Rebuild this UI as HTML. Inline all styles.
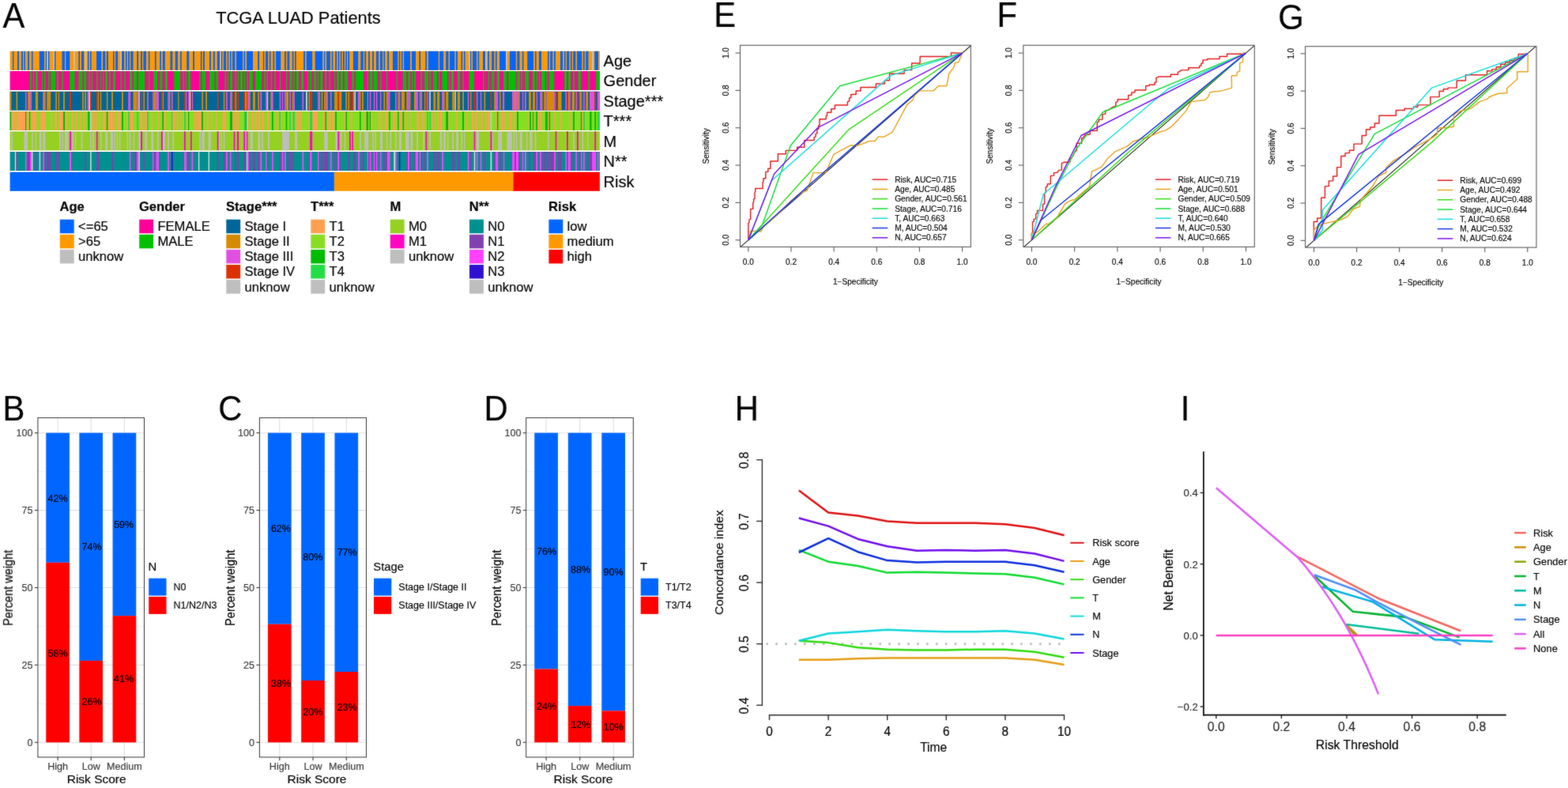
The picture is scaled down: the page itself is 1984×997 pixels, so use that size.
<!DOCTYPE html>
<html lang="en">
<head>
<meta charset="utf-8">
<title>TCGA LUAD Patients - risk score clinical correlation</title>
<style>
html,body{margin:0;padding:0;background:#fff;}
body{width:1984px;height:997px;overflow:hidden;font-family:'Liberation Sans',sans-serif;}
svg{display:block;position:absolute;left:0;top:0;}
svg text{font-family:"Liberation Sans",sans-serif;}
</style>
</head>
<body>
<svg width="1984" height="997" viewBox="0 0 1984 997">
<defs>
<filter id="soft" x="0" y="0" width="1984" height="997" filterUnits="userSpaceOnUse" color-interpolation-filters="sRGB"><feGaussianBlur in="SourceGraphic" stdDeviation="1" result="b"/><feComposite in="SourceGraphic" in2="b" operator="arithmetic" k1="0" k2="0.70" k3="0.30" k4="0"/></filter>
<filter id="softh" x="0" y="0" width="1984" height="997" filterUnits="userSpaceOnUse" color-interpolation-filters="sRGB"><feGaussianBlur in="SourceGraphic" stdDeviation="1 0" result="b"/><feComposite in="SourceGraphic" in2="b" operator="arithmetic" k1="0" k2="0.80" k3="0.20" k4="0"/></filter>
</defs>
<rect x="0" y="0" width="1984" height="997" fill="#ffffff"/>
<g id="heatmap" filter="url(#softh)">
<rect x="12.60" y="64.80" width="746.30" height="24.00" fill="#FF9900"/>
<path d="M15.92 64.80h1.45v24.0h-1.45zM22.11 64.80h1.90v24.0h-1.90zM27.04 64.80h1.90v24.0h-1.90zM30.33 64.80h1.58v24.0h-1.58zM35.07 64.80h1.90v24.0h-1.90zM39.93 64.80h1.64v24.0h-1.64zM49.79 64.80h6.26v24.0h-6.26zM57.82 64.80h1.45v24.0h-1.45zM60.98 64.80h1.45v24.0h-1.45zM68.88 64.80h1.58v24.0h-1.58zM78.48 64.80h3.48v24.0h-3.48zM83.28 64.80h4.99v24.0h-4.99zM99.34 64.80h1.77v24.0h-1.77zM103.00 64.80h3.16v24.0h-3.16zM110.90 64.80h1.58v24.0h-1.58zM114.06 64.80h1.58v24.0h-1.58zM122.09 64.80h6.19v24.0h-6.19zM130.17 64.80h3.16v24.0h-3.16zM134.91 64.80h2.09v24.0h-2.09zM142.99 64.80h1.58v24.0h-1.58zM146.14 64.80h2.96v24.0h-2.96zM154.01 64.80h3.15v24.0h-3.15zM158.93 64.80h1.70v24.0h-1.70zM162.20 64.80h1.76v24.0h-1.76zM165.35 64.80h3.15v24.0h-3.15zM173.23 64.80h1.89v24.0h-1.89zM178.08 64.80h1.89v24.0h-1.89zM181.42 64.80h3.47v24.0h-3.47zM187.91 64.80h1.51v24.0h-1.51zM195.91 64.80h1.70v24.0h-1.70zM202.21 64.80h1.70v24.0h-1.70zM205.80 64.80h3.02v24.0h-3.02zM215.44 64.80h2.84v24.0h-2.84zM221.74 64.80h3.15v24.0h-3.15zM228.04 64.80h1.70v24.0h-1.70zM236.23 64.80h2.96v24.0h-2.96zM244.11 64.80h1.89v24.0h-1.89zM253.87 64.80h1.58v24.0h-1.58zM257.02 64.80h1.89v24.0h-1.89zM265.02 64.80h1.89v24.0h-1.89zM269.88 64.80h1.89v24.0h-1.89zM274.92 64.80h3.15v24.0h-3.15zM279.64 64.80h1.58v24.0h-1.58zM282.92 64.80h3.15v24.0h-3.15zM287.71 64.80h1.51v24.0h-1.51zM290.98 64.80h1.58v24.0h-1.58zM294.13 64.80h3.15v24.0h-3.15zM299.05 64.80h8.00v24.0h-8.00zM308.62 64.80h1.58v24.0h-1.58zM312.09 64.80h7.88v24.0h-7.88zM326.14 64.80h1.89v24.0h-1.89zM332.88 64.80h1.45v24.0h-1.45zM336.03 64.80h3.15v24.0h-3.15zM340.88 64.80h1.64v24.0h-1.64zM345.48 64.80h1.70v24.0h-1.70zM349.07 64.80h6.17v24.0h-6.17zM359.97 64.80h1.89v24.0h-1.89zM363.44 64.80h2.84v24.0h-2.84zM369.74 64.80h1.76v24.0h-1.76zM373.01 64.80h1.76v24.0h-1.76zM384.10 64.80h1.89v24.0h-1.89zM387.76 64.80h7.43v24.0h-7.43zM398.66 64.80h9.45v24.0h-9.45zM410.00 64.80h1.26v24.0h-1.26zM413.15 64.80h4.73v24.0h-4.73zM419.76 64.80h1.58v24.0h-1.58zM424.17 64.80h1.89v24.0h-1.89zM427.64 64.80h1.58v24.0h-1.58zM430.79 64.80h1.58v24.0h-1.58zM433.94 64.80h1.89v24.0h-1.89zM437.28 64.80h1.70v24.0h-1.70zM440.24 64.80h1.89v24.0h-1.89zM446.85 64.80h6.30v24.0h-6.30zM456.30 64.80h3.47v24.0h-3.47zM461.22 64.80h1.89v24.0h-1.89zM466.07 64.80h1.89v24.0h-1.89zM471.11 64.80h1.89v24.0h-1.89zM475.96 64.80h3.15v24.0h-3.15zM480.88 64.80h3.15v24.0h-3.15zM485.41 64.80h1.76v24.0h-1.76zM490.20 64.80h1.89v24.0h-1.89zM496.94 64.80h6.30v24.0h-6.30zM504.82 64.80h1.58v24.0h-1.58zM507.97 64.80h1.58v24.0h-1.58zM511.12 64.80h7.94v24.0h-7.94zM520.95 64.80h5.04v24.0h-5.04zM530.27 64.80h1.89v24.0h-1.89zM538.34 64.80h1.70v24.0h-1.70zM541.93 64.80h12.79v24.0h-12.79zM556.23 64.80h4.91v24.0h-4.91zM564.17 64.80h3.28v24.0h-3.28zM569.02 64.80h6.30v24.0h-6.30zM576.89 64.80h2.02v24.0h-2.02zM583.51 64.80h1.70v24.0h-1.70zM586.97 64.80h1.58v24.0h-1.58zM594.85 64.80h1.45v24.0h-1.45zM598.00 64.80h5.04v24.0h-5.04zM604.62 64.80h1.58v24.0h-1.58zM611.04 64.80h3.02v24.0h-3.02zM617.22 64.80h1.76v24.0h-1.76zM622.13 64.80h3.15v24.0h-3.15zM626.98 64.80h1.70v24.0h-1.70zM632.02 64.80h8.00v24.0h-8.00zM644.88 64.80h7.88v24.0h-7.88zM654.33 64.80h3.15v24.0h-3.15zM660.82 64.80h1.70v24.0h-1.70zM667.24 64.80h7.88v24.0h-7.88zM677.01 64.80h1.58v24.0h-1.58zM681.86 64.80h3.15v24.0h-3.15zM692.95 64.80h1.70v24.0h-1.70zM696.22 64.80h3.02v24.0h-3.02zM700.95 64.80h1.89v24.0h-1.89zM708.95 64.80h3.15v24.0h-3.15zM713.99 64.80h1.64v24.0h-1.64zM717.14 64.80h3.15v24.0h-3.15zM721.93 64.80h1.70v24.0h-1.70zM725.21 64.80h3.15v24.0h-3.15zM730.12 64.80h6.11v24.0h-6.11zM737.93 64.80h1.76v24.0h-1.76zM741.27 64.80h3.15v24.0h-3.15zM752.30 64.80h4.73v24.0h-4.73z" fill="#0066FF"/>
<path d="M59.27 64.80h1.71v24.0h-1.71zM67.61 64.80h1.26v24.0h-1.26zM93.21 64.80h1.58v24.0h-1.58zM107.74 64.80h1.58v24.0h-1.58zM152.44 64.80h1.58v24.0h-1.58zM278.07 64.80h1.58v24.0h-1.58zM593.28 64.80h1.58v24.0h-1.58zM614.07 64.80h1.58v24.0h-1.58zM640.02 64.80h1.51v24.0h-1.51zM749.15 64.80h1.89v24.0h-1.89z" fill="#C4C4C4"/>
<rect x="12.60" y="90.00" width="746.30" height="24.00" fill="#FF0099"/>
<path d="M38.04 90.00h1.90v24.0h-1.90zM41.58 90.00h1.52v24.0h-1.52zM44.86 90.00h3.16v24.0h-3.16zM52.76 90.00h1.45v24.0h-1.45zM55.92 90.00h1.71v24.0h-1.71zM60.98 90.00h1.45v24.0h-1.45zM64.14 90.00h6.00v24.0h-6.00zM72.04 90.00h1.90v24.0h-1.90zM78.35 90.00h1.77v24.0h-1.77zM88.15 90.00h6.32v24.0h-6.32zM99.34 90.00h4.93v24.0h-4.93zM106.03 90.00h3.16v24.0h-3.16zM112.16 90.00h1.71v24.0h-1.71zM115.45 90.00h1.77v24.0h-1.77zM121.96 90.00h1.77v24.0h-1.77zM126.89 90.00h1.39v24.0h-1.39zM130.05 90.00h1.58v24.0h-1.58zM133.33 90.00h2.84v24.0h-2.84zM137.95 90.00h1.89v24.0h-1.89zM142.99 90.00h3.15v24.0h-3.15zM152.44 90.00h1.58v24.0h-1.58zM157.16 90.00h1.76v24.0h-1.76zM163.97 90.00h3.15v24.0h-3.15zM168.82 90.00h4.41v24.0h-4.41zM175.12 90.00h8.00v24.0h-8.00zM187.91 90.00h1.51v24.0h-1.51zM194.21 90.00h4.85v24.0h-4.85zM202.21 90.00h3.34v24.0h-3.34zM208.82 90.00h3.28v24.0h-3.28zM220.17 90.00h7.88v24.0h-7.88zM231.19 90.00h1.70v24.0h-1.70zM234.53 90.00h1.51v24.0h-1.51zM237.93 90.00h3.02v24.0h-3.02zM252.17 90.00h1.70v24.0h-1.70zM255.57 90.00h4.60v24.0h-4.60zM265.02 90.00h6.43v24.0h-6.43zM273.21 90.00h2.96v24.0h-2.96zM284.18 90.00h1.89v24.0h-1.89zM287.71 90.00h1.51v24.0h-1.51zM290.98 90.00h3.15v24.0h-3.15zM297.28 90.00h1.76v24.0h-1.76zM300.56 90.00h1.64v24.0h-1.64zM303.90 90.00h3.15v24.0h-3.15zM308.62 90.00h1.58v24.0h-1.58zM312.09 90.00h1.45v24.0h-1.45zM315.05 90.00h4.91v24.0h-4.91zM322.99 90.00h8.19v24.0h-8.19zM334.14 90.00h1.89v24.0h-1.89zM337.60 90.00h1.58v24.0h-1.58zM342.52 90.00h1.70v24.0h-1.70zM347.18 90.00h1.89v24.0h-1.89zM353.67 90.00h1.58v24.0h-1.58zM361.86 90.00h1.58v24.0h-1.58zM366.27 90.00h3.47v24.0h-3.47zM371.31 90.00h1.70v24.0h-1.70zM374.78 90.00h3.15v24.0h-3.15zM380.95 90.00h3.28v24.0h-3.28zM388.89 90.00h1.58v24.0h-1.58zM392.04 90.00h1.89v24.0h-1.89zM397.08 90.00h3.15v24.0h-3.15zM401.81 90.00h1.58v24.0h-1.58zM405.15 90.00h3.15v24.0h-3.15zM411.26 90.00h1.89v24.0h-1.89zM416.30 90.00h1.70v24.0h-1.70zM422.91 90.00h1.39v24.0h-1.39zM426.06 90.00h3.02v24.0h-3.02zM430.79 90.00h3.15v24.0h-3.15zM435.83 90.00h4.41v24.0h-4.41zM445.28 90.00h2.96v24.0h-2.96zM450.13 90.00h9.83v24.0h-9.83zM464.49 90.00h1.76v24.0h-1.76zM467.96 90.00h3.15v24.0h-3.15zM472.81 90.00h4.60v24.0h-4.60zM480.88 90.00h1.58v24.0h-1.58zM488.75 90.00h1.58v24.0h-1.58zM501.54 90.00h1.70v24.0h-1.70zM509.54 90.00h4.66v24.0h-4.66zM516.10 90.00h2.96v24.0h-2.96zM520.95 90.00h1.45v24.0h-1.45zM523.97 90.00h2.02v24.0h-2.02zM532.16 90.00h1.89v24.0h-1.89zM537.08 90.00h4.85v24.0h-4.85zM543.38 90.00h1.70v24.0h-1.70zM548.23 90.00h4.73v24.0h-4.73zM554.84 90.00h1.58v24.0h-1.58zM559.25 90.00h6.80v24.0h-6.80zM567.57 90.00h1.64v24.0h-1.64zM570.91 90.00h3.15v24.0h-3.15zM578.91 90.00h3.15v24.0h-3.15zM585.21 90.00h1.76v24.0h-1.76zM593.28 90.00h6.62v24.0h-6.62zM611.04 90.00h1.76v24.0h-1.76zM617.34 90.00h1.64v24.0h-1.64zM622.13 90.00h3.15v24.0h-3.15zM628.68 90.00h3.34v24.0h-3.34zM637.00 90.00h4.41v24.0h-4.41zM643.17 90.00h9.58v24.0h-9.58zM654.33 90.00h3.34v24.0h-3.34zM659.18 90.00h1.76v24.0h-1.76zM664.09 90.00h4.91v24.0h-4.91zM673.86 90.00h3.15v24.0h-3.15zM678.58 90.00h1.58v24.0h-1.58zM681.86 90.00h1.45v24.0h-1.45zM685.01 90.00h4.91v24.0h-4.91zM691.31 90.00h1.64v24.0h-1.64zM694.65 90.00h6.49v24.0h-6.49zM713.99 90.00h3.15v24.0h-3.15zM718.91 90.00h3.15v24.0h-3.15zM725.21 90.00h1.76v24.0h-1.76zM731.51 90.00h3.47v24.0h-3.47zM744.23 90.00h1.89v24.0h-1.89zM754.19 90.00h4.71v24.0h-4.71z" fill="#00C000"/>
<rect x="12.60" y="115.70" width="746.30" height="24.00" fill="#006699"/>
<path d="M12.60 115.70h1.79v24.0h-1.79zM20.51 115.70h1.70v24.0h-1.70zM35.19 115.70h2.96v24.0h-2.96zM44.89 115.70h3.15v24.0h-3.15zM55.98 115.70h1.70v24.0h-1.70zM59.25 115.70h4.91v24.0h-4.91zM70.28 115.70h1.70v24.0h-1.70zM73.74 115.70h1.39v24.0h-1.39zM80.04 115.70h1.89v24.0h-1.89zM104.11 115.70h1.76v24.0h-1.76zM107.26 115.70h1.76v24.0h-1.76zM123.52 115.70h1.58v24.0h-1.58zM126.79 115.70h1.45v24.0h-1.45zM134.86 115.70h1.58v24.0h-1.58zM141.10 115.70h1.89v24.0h-1.89zM154.01 115.70h1.89v24.0h-1.89zM168.50 115.70h4.91v24.0h-4.91zM181.42 115.70h1.58v24.0h-1.58zM194.33 115.70h3.28v24.0h-3.28zM205.67 115.70h1.39v24.0h-1.39zM213.86 115.70h1.58v24.0h-1.58zM225.21 115.70h1.26v24.0h-1.26zM255.32 115.70h1.70v24.0h-1.70zM260.17 115.70h1.83v24.0h-1.83zM282.79 115.70h1.58v24.0h-1.58zM292.37 115.70h1.64v24.0h-1.64zM297.41 115.70h1.64v24.0h-1.64zM310.01 115.70h2.08v24.0h-2.08zM315.05 115.70h1.64v24.0h-1.64zM319.96 115.70h3.02v24.0h-3.02zM326.26 115.70h1.76v24.0h-1.76zM342.33 115.70h1.58v24.0h-1.58zM361.67 115.70h3.34v24.0h-3.34zM369.74 115.70h1.58v24.0h-1.58zM390.47 115.70h1.70v24.0h-1.70zM403.38 115.70h1.76v24.0h-1.76zM406.66 115.70h1.64v24.0h-1.64zM410.00 115.70h1.45v24.0h-1.45zM413.15 115.70h1.70v24.0h-1.70zM423.04 115.70h4.41v24.0h-4.41zM429.09 115.70h3.15v24.0h-3.15zM437.28 115.70h1.70v24.0h-1.70zM440.24 115.70h1.70v24.0h-1.70zM446.85 115.70h1.58v24.0h-1.58zM455.04 115.70h1.58v24.0h-1.58zM458.07 115.70h1.89v24.0h-1.89zM485.41 115.70h1.76v24.0h-1.76zM488.75 115.70h1.45v24.0h-1.45zM503.24 115.70h1.58v24.0h-1.58zM507.97 115.70h4.03v24.0h-4.03zM514.21 115.70h1.70v24.0h-1.70zM517.80 115.70h1.64v24.0h-1.64zM523.97 115.70h2.02v24.0h-2.02zM532.29 115.70h1.64v24.0h-1.64zM537.08 115.70h1.39v24.0h-1.39zM548.42 115.70h2.77v24.0h-2.77zM553.08 115.70h3.15v24.0h-3.15zM561.02 115.70h1.70v24.0h-1.70zM564.17 115.70h3.15v24.0h-3.15zM572.17 115.70h3.47v24.0h-3.47zM578.91 115.70h3.15v24.0h-3.15zM585.21 115.70h1.76v24.0h-1.76zM595.04 115.70h1.39v24.0h-1.39zM612.49 115.70h1.70v24.0h-1.70zM625.28 115.70h1.70v24.0h-1.70zM632.02 115.70h1.58v24.0h-1.58zM650.99 115.70h2.08v24.0h-2.08zM656.03 115.70h1.64v24.0h-1.64zM669.01 115.70h2.96v24.0h-2.96zM674.05 115.70h2.96v24.0h-2.96zM684.88 115.70h1.58v24.0h-1.58zM688.16 115.70h1.76v24.0h-1.76zM691.50 115.70h9.64v24.0h-9.64zM705.99 115.70h4.60v24.0h-4.60zM718.91 115.70h1.39v24.0h-1.39zM723.63 115.70h3.34v24.0h-3.34zM733.27 115.70h1.89v24.0h-1.89zM741.27 115.70h2.96v24.0h-2.96z" fill="#D68A00"/>
<path d="M32.04 115.70h1.51v24.0h-1.51zM38.15 115.70h1.89v24.0h-1.89zM54.09 115.70h1.89v24.0h-1.89zM110.60 115.70h1.70v24.0h-1.70zM162.20 115.70h3.02v24.0h-3.02zM173.42 115.70h1.89v24.0h-1.89zM186.14 115.70h1.76v24.0h-1.76zM193.07 115.70h1.26v24.0h-1.26zM197.61 115.70h3.34v24.0h-3.34zM212.29 115.70h1.58v24.0h-1.58zM217.02 115.70h1.58v24.0h-1.58zM234.66 115.70h1.58v24.0h-1.58zM238.12 115.70h1.58v24.0h-1.58zM242.85 115.70h1.26v24.0h-1.26zM285.94 115.70h1.89v24.0h-1.89zM290.98 115.70h1.39v24.0h-1.39zM313.03 115.70h2.02v24.0h-2.02zM329.29 115.70h1.89v24.0h-1.89zM336.03 115.70h1.70v24.0h-1.70zM343.91 115.70h1.76v24.0h-1.76zM353.67 115.70h1.58v24.0h-1.58zM356.82 115.70h1.45v24.0h-1.45zM359.97 115.70h1.70v24.0h-1.70zM366.27 115.70h1.89v24.0h-1.89zM371.31 115.70h1.70v24.0h-1.70zM382.34 115.70h1.89v24.0h-1.89zM401.99 115.70h1.39v24.0h-1.39zM411.45 115.70h1.70v24.0h-1.70zM418.00 115.70h1.64v24.0h-1.64zM452.84 115.70h2.21v24.0h-2.21zM464.62 115.70h1.45v24.0h-1.45zM467.77 115.70h1.64v24.0h-1.64zM472.81 115.70h1.45v24.0h-1.45zM475.84 115.70h1.58v24.0h-1.58zM480.88 115.70h1.58v24.0h-1.58zM490.20 115.70h3.28v24.0h-3.28zM500.09 115.70h1.70v24.0h-1.70zM504.82 115.70h1.58v24.0h-1.58zM515.91 115.70h1.89v24.0h-1.89zM525.99 115.70h3.02v24.0h-3.02zM530.78 115.70h1.51v24.0h-1.51zM540.23 115.70h1.51v24.0h-1.51zM559.25 115.70h1.76v24.0h-1.76zM591.70 115.70h1.70v24.0h-1.70zM602.85 115.70h1.64v24.0h-1.64zM607.77 115.70h1.58v24.0h-1.58zM626.98 115.70h3.34v24.0h-3.34zM635.99 115.70h2.27v24.0h-2.27zM648.03 115.70h2.96v24.0h-2.96zM653.07 115.70h2.96v24.0h-2.96zM660.94 115.70h1.39v24.0h-1.39zM663.97 115.70h1.89v24.0h-1.89zM678.58 115.70h1.58v24.0h-1.58zM683.12 115.70h1.76v24.0h-1.76zM689.92 115.70h1.58v24.0h-1.58zM701.14 115.70h1.70v24.0h-1.70zM715.44 115.70h1.58v24.0h-1.58zM720.29 115.70h1.64v24.0h-1.64zM728.23 115.70h1.70v24.0h-1.70zM735.16 115.70h1.26v24.0h-1.26zM738.12 115.70h1.70v24.0h-1.70zM746.00 115.70h6.30v24.0h-6.30zM755.95 115.70h2.95v24.0h-2.95z" fill="#E050E0"/>
<path d="M88.11 115.70h1.89v24.0h-1.89zM113.94 115.70h1.70v24.0h-1.70zM121.94 115.70h1.58v24.0h-1.58zM178.27 115.70h1.70v24.0h-1.70zM204.10 115.70h1.58v24.0h-1.58zM233.08 115.70h1.58v24.0h-1.58zM241.08 115.70h1.76v24.0h-1.76zM274.73 115.70h1.76v24.0h-1.76zM295.90 115.70h1.51v24.0h-1.51zM300.31 115.70h1.89v24.0h-1.89zM308.62 115.70h1.39v24.0h-1.39zM312.09 115.70h0.95v24.0h-0.95zM392.17 115.70h3.02v24.0h-3.02zM427.45 115.70h1.64v24.0h-1.64zM441.94 115.70h1.64v24.0h-1.64zM445.28 115.70h1.58v24.0h-1.58zM538.46 115.70h1.76v24.0h-1.76zM599.58 115.70h1.76v24.0h-1.76zM620.49 115.70h1.76v24.0h-1.76zM702.84 115.70h1.45v24.0h-1.45zM717.02 115.70h1.89v24.0h-1.89zM729.93 115.70h1.70v24.0h-1.70zM752.30 115.70h1.89v24.0h-1.89z" fill="#DC3000"/>
<path d="M112.30 115.70h1.64v24.0h-1.64zM175.31 115.70h1.51v24.0h-1.51zM239.70 115.70h1.39v24.0h-1.39zM337.73 115.70h1.45v24.0h-1.45zM387.00 115.70h1.89v24.0h-1.89zM448.43 115.70h1.58v24.0h-1.58zM543.19 115.70h1.70v24.0h-1.70zM575.63 115.70h1.26v24.0h-1.26z" fill="#CFCFCF"/>
<rect x="12.60" y="140.90" width="746.30" height="24.00" fill="#88DD22"/>
<path d="M12.60 140.90h1.79v24.0h-1.79zM32.04 140.90h1.51v24.0h-1.51zM36.70 140.90h1.45v24.0h-1.45zM80.04 140.90h2.02v24.0h-2.02zM111.23 140.90h2.52v24.0h-2.52zM134.86 140.90h1.58v24.0h-1.58zM154.01 140.90h1.89v24.0h-1.89zM205.36 140.90h1.70v24.0h-1.70zM237.93 140.90h1.26v24.0h-1.26zM254.94 140.90h1.89v24.0h-1.89zM290.98 140.90h3.02v24.0h-3.02zM310.39 140.90h1.70v24.0h-1.70zM343.91 140.90h1.89v24.0h-1.89zM361.67 140.90h1.64v24.0h-1.64zM411.26 140.90h1.70v24.0h-1.70zM424.17 140.90h1.76v24.0h-1.76zM437.28 140.90h1.70v24.0h-1.70zM455.04 140.90h1.58v24.0h-1.58zM463.23 140.90h2.84v24.0h-2.84zM467.65 140.90h1.58v24.0h-1.58zM492.09 140.90h1.70v24.0h-1.70zM503.24 140.90h1.58v24.0h-1.58zM509.54 140.90h1.58v24.0h-1.58zM564.17 140.90h3.15v24.0h-3.15zM585.08 140.90h1.89v24.0h-1.89zM628.68 140.90h1.76v24.0h-1.76zM654.14 140.90h1.89v24.0h-1.89zM670.08 140.90h1.89v24.0h-1.89zM673.67 140.90h1.45v24.0h-1.45zM678.27 140.90h1.89v24.0h-1.89zM689.92 140.90h3.02v24.0h-3.02zM694.33 140.90h1.76v24.0h-1.76zM725.08 140.90h1.89v24.0h-1.89zM734.78 140.90h1.64v24.0h-1.64zM746.12 140.90h2.39v24.0h-2.39zM752.30 140.90h1.89v24.0h-1.89z" fill="#00BB00"/>
<path d="M14.39 140.90h4.41v24.0h-4.41zM20.82 140.90h11.21v24.0h-11.21zM33.55 140.90h3.15v24.0h-3.15zM40.04 140.90h6.11v24.0h-6.11zM51.06 140.90h6.43v24.0h-6.43zM64.17 140.90h1.70v24.0h-1.70zM69.21 140.90h2.77v24.0h-2.77zM75.00 140.90h5.04v24.0h-5.04zM83.19 140.90h1.76v24.0h-1.76zM90.12 140.90h2.84v24.0h-2.84zM96.11 140.90h1.89v24.0h-1.89zM101.15 140.90h1.58v24.0h-1.58zM105.88 140.90h1.58v24.0h-1.58zM117.09 140.90h3.15v24.0h-3.15zM121.94 140.90h1.58v24.0h-1.58zM125.09 140.90h1.70v24.0h-1.70zM130.13 140.90h3.15v24.0h-3.15zM137.00 140.90h5.80v24.0h-5.80zM144.56 140.90h1.58v24.0h-1.58zM148.03 140.90h4.41v24.0h-4.41zM160.44 140.90h1.76v24.0h-1.76zM163.97 140.90h4.41v24.0h-4.41zM176.82 140.90h3.15v24.0h-3.15zM181.42 140.90h1.58v24.0h-1.58zM184.57 140.90h1.58v24.0h-1.58zM191.06 140.90h1.89v24.0h-1.89zM199.25 140.90h1.70v24.0h-1.70zM207.06 140.90h3.02v24.0h-3.02zM218.28 140.90h3.47v24.0h-3.47zM223.44 140.90h1.64v24.0h-1.64zM228.36 140.90h1.58v24.0h-1.58zM231.51 140.90h1.58v24.0h-1.58zM236.23 140.90h1.70v24.0h-1.70zM246.00 140.90h3.02v24.0h-3.02zM250.72 140.90h4.22v24.0h-4.22zM258.28 140.90h0.95v24.0h-0.95zM262.00 140.90h1.76v24.0h-1.76zM266.73 140.90h1.58v24.0h-1.58zM273.21 140.90h1.70v24.0h-1.70zM281.41 140.90h4.54v24.0h-4.54zM294.01 140.90h2.96v24.0h-2.96zM299.17 140.90h2.84v24.0h-2.84zM313.35 140.90h1.58v24.0h-1.58zM318.39 140.90h2.84v24.0h-2.84zM322.99 140.90h1.89v24.0h-1.89zM326.58 140.90h2.71v24.0h-2.71zM331.18 140.90h2.96v24.0h-2.96zM337.92 140.90h2.84v24.0h-2.84zM348.82 140.90h1.39v24.0h-1.39zM355.12 140.90h1.70v24.0h-1.70zM368.16 140.90h2.08v24.0h-2.08zM374.78 140.90h3.02v24.0h-3.02zM379.31 140.90h1.64v24.0h-1.64zM390.47 140.90h1.70v24.0h-1.70zM395.19 140.90h6.62v24.0h-6.62zM408.74 140.90h2.52v24.0h-2.52zM414.72 140.90h3.15v24.0h-3.15zM419.76 140.90h3.15v24.0h-3.15zM435.64 140.90h1.64v24.0h-1.64zM443.58 140.90h1.70v24.0h-1.70zM461.22 140.90h2.02v24.0h-2.02zM469.22 140.90h1.89v24.0h-1.89zM478.99 140.90h1.89v24.0h-1.89zM482.45 140.90h1.58v24.0h-1.58zM487.18 140.90h3.15v24.0h-3.15zM496.94 140.90h3.15v24.0h-3.15zM504.82 140.90h3.47v24.0h-3.47zM512.00 140.90h2.21v24.0h-2.21zM519.25 140.90h1.70v24.0h-1.70zM527.25 140.90h3.15v24.0h-3.15zM533.93 140.90h3.15v24.0h-3.15zM546.65 140.90h1.39v24.0h-1.39zM549.93 140.90h1.45v24.0h-1.45zM553.08 140.90h1.76v24.0h-1.76zM556.42 140.90h2.84v24.0h-2.84zM567.32 140.90h1.70v24.0h-1.70zM577.21 140.90h1.70v24.0h-1.70zM590.12 140.90h1.58v24.0h-1.58zM596.74 140.90h2.96v24.0h-2.96zM601.34 140.90h3.15v24.0h-3.15zM606.19 140.90h1.58v24.0h-1.58zM609.34 140.90h1.70v24.0h-1.70zM614.19 140.90h1.76v24.0h-1.76zM617.34 140.90h1.76v24.0h-1.76zM626.98 140.90h1.70v24.0h-1.70zM633.60 140.90h3.40v24.0h-3.40zM638.13 140.90h1.70v24.0h-1.70zM641.73 140.90h1.45v24.0h-1.45zM645.06 140.90h2.77v24.0h-2.77zM649.60 140.90h1.58v24.0h-1.58zM669.01 140.90h1.07v24.0h-1.07zM671.97 140.90h1.70v24.0h-1.70zM680.16 140.90h1.70v24.0h-1.70zM683.31 140.90h1.70v24.0h-1.70zM692.95 140.90h1.39v24.0h-1.39zM701.14 140.90h1.70v24.0h-1.70zM708.95 140.90h1.76v24.0h-1.76zM720.29 140.90h1.64v24.0h-1.64zM736.42 140.90h1.70v24.0h-1.70z" fill="#FFA050"/>
<path d="M113.75 140.90h1.89v24.0h-1.89zM312.09 140.90h1.26v24.0h-1.26zM620.49 140.90h1.76v24.0h-1.76z" fill="#C8C8C8"/>
<path d="M162.20 140.90h1.76v24.0h-1.76zM173.23 140.90h1.89v24.0h-1.89zM186.14 140.90h1.76v24.0h-1.76zM217.02 140.90h1.26v24.0h-1.26zM233.08 140.90h1.89v24.0h-1.89zM308.62 140.90h1.76v24.0h-1.76zM353.36 140.90h1.76v24.0h-1.76zM366.27 140.90h1.89v24.0h-1.89zM370.24 140.90h2.65v24.0h-2.65zM392.17 140.90h3.02v24.0h-3.02zM540.04 140.90h1.89v24.0h-1.89zM543.19 140.90h1.89v24.0h-1.89zM738.12 140.90h1.89v24.0h-1.89zM755.95 140.90h2.95v24.0h-2.95z" fill="#22DD44"/>
<rect x="12.60" y="166.30" width="746.30" height="24.00" fill="#96D022"/>
<path d="M14.21 166.30h1.70v24.0h-1.70zM30.40 166.30h4.60v24.0h-4.60zM40.04 166.30h1.58v24.0h-1.58zM44.76 166.30h1.39v24.0h-1.39zM49.80 166.30h2.84v24.0h-2.84zM54.34 166.30h3.02v24.0h-3.02zM75.00 166.30h1.89v24.0h-1.89zM78.66 166.30h1.39v24.0h-1.39zM81.93 166.30h4.41v24.0h-4.41zM91.39 166.30h1.58v24.0h-1.58zM94.85 166.30h1.45v24.0h-1.45zM102.73 166.30h1.76v24.0h-1.76zM114.07 166.30h1.58v24.0h-1.58zM117.09 166.30h1.89v24.0h-1.89zM126.98 166.30h1.45v24.0h-1.45zM133.28 166.30h2.84v24.0h-2.84zM139.84 166.30h3.15v24.0h-3.15zM144.56 166.30h1.58v24.0h-1.58zM147.84 166.30h1.45v24.0h-1.45zM150.99 166.30h1.45v24.0h-1.45zM160.63 166.30h1.58v24.0h-1.58zM163.78 166.30h1.58v24.0h-1.58zM168.63 166.30h1.64v24.0h-1.64zM175.31 166.30h2.65v24.0h-2.65zM183.12 166.30h3.02v24.0h-3.02zM191.18 166.30h3.02v24.0h-3.02zM199.06 166.30h1.89v24.0h-1.89zM205.80 166.30h3.02v24.0h-3.02zM212.10 166.30h1.76v24.0h-1.76zM218.28 166.30h1.76v24.0h-1.76zM252.30 166.30h1.76v24.0h-1.76zM255.45 166.30h3.28v24.0h-3.28zM263.58 166.30h3.15v24.0h-3.15zM276.49 166.30h1.58v24.0h-1.58zM279.64 166.30h1.39v24.0h-1.39zM282.79 166.30h1.58v24.0h-1.58zM310.20 166.30h1.70v24.0h-1.70zM316.69 166.30h3.15v24.0h-3.15zM326.26 166.30h3.02v24.0h-3.02zM330.99 166.30h1.89v24.0h-1.89zM338.99 166.30h1.89v24.0h-1.89zM357.14 166.30h8.82v24.0h-8.82zM373.01 166.30h3.15v24.0h-3.15zM410.19 166.30h4.54v24.0h-4.54zM424.30 166.30h3.02v24.0h-3.02zM430.79 166.30h1.58v24.0h-1.58zM435.64 166.30h1.64v24.0h-1.64zM455.04 166.30h1.76v24.0h-1.76zM461.22 166.30h5.04v24.0h-5.04zM471.11 166.30h1.70v24.0h-1.70zM474.26 166.30h1.70v24.0h-1.70zM481.00 166.30h3.02v24.0h-3.02zM488.94 166.30h1.39v24.0h-1.39zM493.48 166.30h1.76v24.0h-1.76zM500.09 166.30h1.70v24.0h-1.70zM504.94 166.30h3.02v24.0h-3.02zM513.13 166.30h4.54v24.0h-4.54zM519.56 166.30h2.65v24.0h-2.65zM527.12 166.30h1.89v24.0h-1.89zM535.19 166.30h1.89v24.0h-1.89zM543.19 166.30h1.89v24.0h-1.89zM556.61 166.30h2.65v24.0h-2.65zM561.14 166.30h2.84v24.0h-2.84zM565.87 166.30h1.58v24.0h-1.58zM572.17 166.30h1.89v24.0h-1.89zM577.21 166.30h2.96v24.0h-2.96zM583.51 166.30h1.58v24.0h-1.58zM586.97 166.30h1.26v24.0h-1.26zM602.85 166.30h3.34v24.0h-3.34zM622.38 166.30h1.45v24.0h-1.45zM630.32 166.30h4.85v24.0h-4.85zM641.41 166.30h6.43v24.0h-6.43zM649.60 166.30h1.58v24.0h-1.58zM652.75 166.30h1.58v24.0h-1.58zM657.67 166.30h3.15v24.0h-3.15zM665.86 166.30h1.39v24.0h-1.39zM670.39 166.30h3.15v24.0h-3.15zM676.82 166.30h1.64v24.0h-1.64zM692.95 166.30h1.70v24.0h-1.70zM725.21 166.30h1.76v24.0h-1.76zM736.42 166.30h1.70v24.0h-1.70zM743.16 166.30h1.26v24.0h-1.26z" fill="#BEBEBE"/>
<path d="M88.11 166.30h1.89v24.0h-1.89zM121.94 166.30h1.70v24.0h-1.70zM177.95 166.30h2.02v24.0h-2.02zM203.91 166.30h1.89v24.0h-1.89zM232.89 166.30h1.89v24.0h-1.89zM240.96 166.30h1.76v24.0h-1.76zM274.73 166.30h1.76v24.0h-1.76zM295.71 166.30h1.70v24.0h-1.70zM299.93 166.30h2.27v24.0h-2.27zM308.31 166.30h1.89v24.0h-1.89zM311.90 166.30h1.45v24.0h-1.45zM392.04 166.30h3.15v24.0h-3.15zM427.32 166.30h1.89v24.0h-1.89zM441.94 166.30h1.89v24.0h-1.89zM445.28 166.30h1.70v24.0h-1.70zM538.46 166.30h1.76v24.0h-1.76zM599.70 166.30h1.64v24.0h-1.64zM620.49 166.30h1.89v24.0h-1.89zM702.65 166.30h1.64v24.0h-1.64zM717.02 166.30h1.89v24.0h-1.89zM729.93 166.30h1.89v24.0h-1.89zM752.30 166.30h1.89v24.0h-1.89z" fill="#FF06C2"/>
<rect x="12.60" y="192.00" width="746.30" height="24.00" fill="#009090"/>
<path d="M18.80 192.00h1.70v24.0h-1.70zM40.04 192.00h1.45v24.0h-1.45zM49.68 192.00h1.51v24.0h-1.51zM114.07 192.00h1.58v24.0h-1.58zM175.31 192.00h1.51v24.0h-1.51zM250.91 192.00h1.51v24.0h-1.51zM263.58 192.00h1.45v24.0h-1.45zM311.90 192.00h1.26v24.0h-1.26zM498.20 192.00h1.89v24.0h-1.89zM599.70 192.00h1.64v24.0h-1.64zM620.49 192.00h1.76v24.0h-1.76z" fill="#D2D2D2"/>
<path d="M20.51 192.00h1.58v24.0h-1.58zM35.00 192.00h2.96v24.0h-2.96zM44.76 192.00h1.58v24.0h-1.58zM56.10 192.00h1.39v24.0h-1.39zM59.25 192.00h4.91v24.0h-4.91zM70.28 192.00h1.70v24.0h-1.70zM73.74 192.00h1.39v24.0h-1.39zM107.26 192.00h1.76v24.0h-1.76zM122.13 192.00h3.15v24.0h-3.15zM141.10 192.00h1.89v24.0h-1.89zM170.27 192.00h2.96v24.0h-2.96zM181.23 192.00h1.89v24.0h-1.89zM194.33 192.00h1.89v24.0h-1.89zM237.68 192.00h1.70v24.0h-1.70zM274.73 192.00h1.76v24.0h-1.76zM282.79 192.00h1.58v24.0h-1.58zM297.41 192.00h1.64v24.0h-1.64zM300.56 192.00h1.64v24.0h-1.64zM308.62 192.00h1.89v24.0h-1.89zM315.05 192.00h1.64v24.0h-1.64zM319.96 192.00h3.02v24.0h-3.02zM326.26 192.00h1.76v24.0h-1.76zM337.60 192.00h1.39v24.0h-1.39zM353.67 192.00h1.58v24.0h-1.58zM363.12 192.00h1.89v24.0h-1.89zM366.27 192.00h1.89v24.0h-1.89zM369.74 192.00h1.76v24.0h-1.76zM390.78 192.00h1.26v24.0h-1.26zM403.51 192.00h1.45v24.0h-1.45zM406.66 192.00h1.76v24.0h-1.76zM410.19 192.00h4.66v24.0h-4.66zM422.91 192.00h1.39v24.0h-1.39zM426.19 192.00h1.13v24.0h-1.13zM429.34 192.00h1.45v24.0h-1.45zM440.24 192.00h1.89v24.0h-1.89zM446.98 192.00h3.15v24.0h-3.15zM458.07 192.00h2.02v24.0h-2.02zM466.07 192.00h1.70v24.0h-1.70zM474.26 192.00h1.58v24.0h-1.58zM485.41 192.00h1.76v24.0h-1.76zM488.75 192.00h1.26v24.0h-1.26zM514.39 192.00h1.51v24.0h-1.51zM517.99 192.00h1.45v24.0h-1.45zM524.29 192.00h1.45v24.0h-1.45zM532.29 192.00h1.64v24.0h-1.64zM536.89 192.00h1.58v24.0h-1.58zM548.42 192.00h2.96v24.0h-2.96zM553.08 192.00h3.34v24.0h-3.34zM572.17 192.00h3.15v24.0h-3.15zM578.91 192.00h3.15v24.0h-3.15zM595.04 192.00h1.51v24.0h-1.51zM612.49 192.00h1.70v24.0h-1.70zM625.28 192.00h1.70v24.0h-1.70zM631.71 192.00h1.89v24.0h-1.89zM635.99 192.00h1.01v24.0h-1.01zM650.99 192.00h1.89v24.0h-1.89zM656.03 192.00h1.45v24.0h-1.45zM668.82 192.00h1.58v24.0h-1.58zM675.12 192.00h3.15v24.0h-3.15zM685.01 192.00h1.45v24.0h-1.45zM688.16 192.00h3.02v24.0h-3.02zM692.95 192.00h1.70v24.0h-1.70zM696.22 192.00h4.91v24.0h-4.91zM705.99 192.00h4.60v24.0h-4.60zM721.93 192.00h1.70v24.0h-1.70zM725.08 192.00h1.39v24.0h-1.39zM733.40 192.00h1.58v24.0h-1.58zM742.85 192.00h1.58v24.0h-1.58zM746.00 192.00h3.15v24.0h-3.15z" fill="#8040B0"/>
<path d="M32.04 192.00h1.51v24.0h-1.51zM37.96 192.00h2.08v24.0h-2.08zM54.34 192.00h1.76v24.0h-1.76zM88.11 192.00h2.02v24.0h-2.02zM163.78 192.00h1.58v24.0h-1.58zM173.23 192.00h2.08v24.0h-2.08zM192.95 192.00h1.39v24.0h-1.39zM197.61 192.00h3.34v24.0h-3.34zM212.10 192.00h1.76v24.0h-1.76zM233.08 192.00h2.96v24.0h-2.96zM242.53 192.00h1.70v24.0h-1.70zM286.07 192.00h1.76v24.0h-1.76zM290.98 192.00h1.58v24.0h-1.58zM313.16 192.00h1.89v24.0h-1.89zM329.29 192.00h1.89v24.0h-1.89zM336.22 192.00h1.39v24.0h-1.39zM343.91 192.00h1.76v24.0h-1.76zM356.82 192.00h1.58v24.0h-1.58zM359.97 192.00h1.70v24.0h-1.70zM382.46 192.00h1.76v24.0h-1.76zM392.04 192.00h2.39v24.0h-2.39zM401.99 192.00h1.51v24.0h-1.51zM418.00 192.00h1.64v24.0h-1.64zM427.32 192.00h2.02v24.0h-2.02zM453.15 192.00h1.89v24.0h-1.89zM464.62 192.00h1.45v24.0h-1.45zM467.77 192.00h1.64v24.0h-1.64zM472.81 192.00h1.45v24.0h-1.45zM475.84 192.00h1.58v24.0h-1.58zM480.88 192.00h1.58v24.0h-1.58zM490.01 192.00h3.47v24.0h-3.47zM500.09 192.00h1.58v24.0h-1.58zM515.91 192.00h2.08v24.0h-2.08zM525.73 192.00h3.28v24.0h-3.28zM530.78 192.00h1.51v24.0h-1.51zM540.04 192.00h1.89v24.0h-1.89zM559.25 192.00h1.89v24.0h-1.89zM591.70 192.00h1.70v24.0h-1.70zM602.85 192.00h1.64v24.0h-1.64zM607.77 192.00h1.58v24.0h-1.58zM626.98 192.00h3.15v24.0h-3.15zM637.00 192.00h1.26v24.0h-1.26zM648.03 192.00h2.96v24.0h-2.96zM652.88 192.00h3.15v24.0h-3.15zM660.94 192.00h1.39v24.0h-1.39zM663.97 192.00h1.89v24.0h-1.89zM678.27 192.00h1.89v24.0h-1.89zM683.12 192.00h1.89v24.0h-1.89zM701.14 192.00h1.70v24.0h-1.70zM715.44 192.00h1.58v24.0h-1.58zM718.91 192.00h3.02v24.0h-3.02zM728.36 192.00h1.58v24.0h-1.58zM734.97 192.00h1.45v24.0h-1.45zM738.12 192.00h1.70v24.0h-1.70zM749.15 192.00h5.04v24.0h-5.04zM755.95 192.00h1.39v24.0h-1.39z" fill="#FF40FF"/>
<path d="M216.89 192.00h1.70v24.0h-1.70zM504.82 192.00h1.58v24.0h-1.58z" fill="#3010D0"/>
<rect x="12.60" y="217.70" width="410.30" height="24.00" fill="#0066FF"/>
<rect x="422.90" y="217.70" width="226.50" height="24.00" fill="#FF9900"/>
<rect x="649.40" y="217.70" width="109.50" height="24.00" fill="#FF0000"/>
</g>
<g id="figure" filter="url(#soft)">
<g id="panel-letters">
<text transform="translate(3.50 34.80) scale(1 1.055)" font-size="41.8" stroke="#000" stroke-width="0.19">A</text>
<text transform="translate(903.30 34.30) scale(1 1.055)" font-size="41.8" stroke="#000" stroke-width="0.19">E</text>
<text transform="translate(1261.50 34.30) scale(1 1.055)" font-size="41.8" stroke="#000" stroke-width="0.19">F</text>
<text transform="translate(1617.20 37.30) scale(1 1.055)" font-size="41.8" stroke="#000" stroke-width="0.19">G</text>
<text transform="translate(3.40 531.70) scale(1 1.055)" font-size="41.8" stroke="#000" stroke-width="0.19">B</text>
<text transform="translate(276.20 531.70) scale(1 1.055)" font-size="41.8" stroke="#000" stroke-width="0.19">C</text>
<text transform="translate(612.60 531.70) scale(1 1.055)" font-size="41.8" stroke="#000" stroke-width="0.19">D</text>
<text transform="translate(929.70 531.70) scale(1 1.055)" font-size="41.8" stroke="#000" stroke-width="0.19">H</text>
<text transform="translate(1493.70 531.70) scale(1 1.055)" font-size="41.8" stroke="#000" stroke-width="0.19">I</text>
</g>
<text x="377.45" y="29.60" font-size="21.8" text-anchor="middle" stroke="#000" stroke-width="0.19">TCGA LUAD Patients</text>

<g id="heatmap-labels">
<text x="763.60" y="84.00" font-size="20" stroke="#000" stroke-width="0.19">Age</text>
<text x="763.60" y="109.20" font-size="20" stroke="#000" stroke-width="0.19">Gender</text>
<text x="763.60" y="134.90" font-size="20" stroke="#000" stroke-width="0.19">Stage***</text>
<text x="763.60" y="160.10" font-size="20" stroke="#000" stroke-width="0.19">T***</text>
<text x="763.60" y="185.50" font-size="20" stroke="#000" stroke-width="0.19">M</text>
<text x="763.60" y="211.20" font-size="20" stroke="#000" stroke-width="0.19">N**</text>
<text x="763.60" y="236.90" font-size="20" stroke="#000" stroke-width="0.19">Risk</text>
</g>
<g id="heatmap-legend">
<text x="75.50" y="266.80" font-size="16.6" font-weight="700" stroke="#000" stroke-width="0.18">Age</text>
<rect x="75.80" y="277.70" width="17.90" height="17.50" fill="#0066FF"/>
<text x="99.00" y="292.10" font-size="16.6" stroke="#000" stroke-width="0.18">&lt;=65</text>
<rect x="75.80" y="296.80" width="17.90" height="17.50" fill="#FF9900"/>
<text x="99.00" y="311.20" font-size="16.6" stroke="#000" stroke-width="0.18">&gt;65</text>
<rect x="75.80" y="315.90" width="17.90" height="17.50" fill="#BEBEBE"/>
<text x="99.00" y="330.30" font-size="16.6" stroke="#000" stroke-width="0.18">unknow</text>
<text x="175.90" y="266.80" font-size="16.6" font-weight="700" stroke="#000" stroke-width="0.18">Gender</text>
<rect x="176.20" y="277.70" width="17.90" height="17.50" fill="#FF0099"/>
<text x="199.40" y="292.10" font-size="16.6" stroke="#000" stroke-width="0.18">FEMALE</text>
<rect x="176.20" y="296.80" width="17.90" height="17.50" fill="#00C000"/>
<text x="199.40" y="311.20" font-size="16.6" stroke="#000" stroke-width="0.18">MALE</text>
<text x="286.00" y="266.80" font-size="16.6" font-weight="700" stroke="#000" stroke-width="0.18">Stage***</text>
<rect x="286.30" y="277.70" width="17.90" height="17.50" fill="#006699"/>
<text x="309.50" y="292.10" font-size="16.6" stroke="#000" stroke-width="0.18">Stage I</text>
<rect x="286.30" y="296.80" width="17.90" height="17.50" fill="#D68A00"/>
<text x="309.50" y="311.20" font-size="16.6" stroke="#000" stroke-width="0.18">Stage II</text>
<rect x="286.30" y="315.90" width="17.90" height="17.50" fill="#E050E0"/>
<text x="309.50" y="330.30" font-size="16.6" stroke="#000" stroke-width="0.18">Stage III</text>
<rect x="286.30" y="335.00" width="17.90" height="17.50" fill="#DC3000"/>
<text x="309.50" y="349.40" font-size="16.6" stroke="#000" stroke-width="0.18">Stage IV</text>
<rect x="286.30" y="354.10" width="17.90" height="17.50" fill="#BEBEBE"/>
<text x="309.50" y="368.50" font-size="16.6" stroke="#000" stroke-width="0.18">unknow</text>
<text x="393.00" y="266.80" font-size="16.6" font-weight="700" stroke="#000" stroke-width="0.18">T***</text>
<rect x="393.30" y="277.70" width="17.90" height="17.50" fill="#FFA050"/>
<text x="416.50" y="292.10" font-size="16.6" stroke="#000" stroke-width="0.18">T1</text>
<rect x="393.30" y="296.80" width="17.90" height="17.50" fill="#88DD22"/>
<text x="416.50" y="311.20" font-size="16.6" stroke="#000" stroke-width="0.18">T2</text>
<rect x="393.30" y="315.90" width="17.90" height="17.50" fill="#00BB00"/>
<text x="416.50" y="330.30" font-size="16.6" stroke="#000" stroke-width="0.18">T3</text>
<rect x="393.30" y="335.00" width="17.90" height="17.50" fill="#22DD44"/>
<text x="416.50" y="349.40" font-size="16.6" stroke="#000" stroke-width="0.18">T4</text>
<rect x="393.30" y="354.10" width="17.90" height="17.50" fill="#BEBEBE"/>
<text x="416.50" y="368.50" font-size="16.6" stroke="#000" stroke-width="0.18">unknow</text>
<text x="493.45" y="266.80" font-size="16.6" font-weight="700" stroke="#000" stroke-width="0.18">M</text>
<rect x="493.75" y="277.70" width="17.90" height="17.50" fill="#96D022"/>
<text x="516.95" y="292.10" font-size="16.6" stroke="#000" stroke-width="0.18">M0</text>
<rect x="493.75" y="296.80" width="17.90" height="17.50" fill="#FF06C2"/>
<text x="516.95" y="311.20" font-size="16.6" stroke="#000" stroke-width="0.18">M1</text>
<rect x="493.75" y="315.90" width="17.90" height="17.50" fill="#BEBEBE"/>
<text x="516.95" y="330.30" font-size="16.6" stroke="#000" stroke-width="0.18">unknow</text>
<text x="593.70" y="266.80" font-size="16.6" font-weight="700" stroke="#000" stroke-width="0.18">N**</text>
<rect x="594.00" y="277.70" width="17.90" height="17.50" fill="#009090"/>
<text x="617.20" y="292.10" font-size="16.6" stroke="#000" stroke-width="0.18">N0</text>
<rect x="594.00" y="296.80" width="17.90" height="17.50" fill="#8040B0"/>
<text x="617.20" y="311.20" font-size="16.6" stroke="#000" stroke-width="0.18">N1</text>
<rect x="594.00" y="315.90" width="17.90" height="17.50" fill="#FF40FF"/>
<text x="617.20" y="330.30" font-size="16.6" stroke="#000" stroke-width="0.18">N2</text>
<rect x="594.00" y="335.00" width="17.90" height="17.50" fill="#3010D0"/>
<text x="617.20" y="349.40" font-size="16.6" stroke="#000" stroke-width="0.18">N3</text>
<rect x="594.00" y="354.10" width="17.90" height="17.50" fill="#BEBEBE"/>
<text x="617.20" y="368.50" font-size="16.6" stroke="#000" stroke-width="0.18">unknow</text>
<text x="694.10" y="266.80" font-size="16.6" font-weight="700" stroke="#000" stroke-width="0.18">Risk</text>
<rect x="694.40" y="277.70" width="17.90" height="17.50" fill="#0066FF"/>
<text x="717.60" y="292.10" font-size="16.6" stroke="#000" stroke-width="0.18">low</text>
<rect x="694.40" y="296.80" width="17.90" height="17.50" fill="#FF9900"/>
<text x="717.60" y="311.20" font-size="16.6" stroke="#000" stroke-width="0.18">medium</text>
<rect x="694.40" y="315.90" width="17.90" height="17.50" fill="#FF0000"/>
<text x="717.60" y="330.30" font-size="16.6" stroke="#000" stroke-width="0.18">high</text>
</g>
<g id="barplots">
<line x1="47.90" y1="890.35" x2="182.50" y2="890.35" stroke="#ebebeb" stroke-width="0.8"/>
<line x1="47.90" y1="792.45" x2="182.50" y2="792.45" stroke="#ebebeb" stroke-width="0.8"/>
<line x1="47.90" y1="694.55" x2="182.50" y2="694.55" stroke="#ebebeb" stroke-width="0.8"/>
<line x1="47.90" y1="596.65" x2="182.50" y2="596.65" stroke="#ebebeb" stroke-width="0.8"/>
<line x1="47.90" y1="939.30" x2="182.50" y2="939.30" stroke="#dfdfdf" stroke-width="1.1"/>
<line x1="47.90" y1="841.40" x2="182.50" y2="841.40" stroke="#dfdfdf" stroke-width="1.1"/>
<line x1="47.90" y1="743.50" x2="182.50" y2="743.50" stroke="#dfdfdf" stroke-width="1.1"/>
<line x1="47.90" y1="645.60" x2="182.50" y2="645.60" stroke="#dfdfdf" stroke-width="1.1"/>
<line x1="47.90" y1="547.70" x2="182.50" y2="547.70" stroke="#dfdfdf" stroke-width="1.1"/>
<line x1="73.10" y1="528.60" x2="73.10" y2="958.00" stroke="#dfdfdf" stroke-width="1.1"/>
<line x1="115.20" y1="528.60" x2="115.20" y2="958.00" stroke="#dfdfdf" stroke-width="1.1"/>
<line x1="157.40" y1="528.60" x2="157.40" y2="958.00" stroke="#dfdfdf" stroke-width="1.1"/>
<rect x="58.25" y="547.70" width="29.70" height="164.08" fill="#0066FF"/>
<rect x="58.25" y="711.78" width="29.70" height="227.52" fill="#FF0000"/>
<rect x="100.35" y="547.70" width="29.70" height="288.22" fill="#0066FF"/>
<rect x="100.35" y="835.92" width="29.70" height="103.38" fill="#FF0000"/>
<rect x="142.55" y="547.70" width="29.70" height="231.44" fill="#0066FF"/>
<rect x="142.55" y="779.14" width="29.70" height="160.16" fill="#FF0000"/>
<text x="73.10" y="635.10" font-size="12.5" text-anchor="middle" stroke="#000" stroke-width="0.16">42%</text>
<text x="73.20" y="831.00" font-size="12.5" text-anchor="middle" stroke="#000" stroke-width="0.16">58%</text>
<text x="116.10" y="695.70" font-size="12.5" text-anchor="middle" stroke="#000" stroke-width="0.16">74%</text>
<text x="116.10" y="891.70" font-size="12.5" text-anchor="middle" stroke="#000" stroke-width="0.16">26%</text>
<text x="156.70" y="667.60" font-size="12.5" text-anchor="middle" stroke="#000" stroke-width="0.16">59%</text>
<text x="156.50" y="863.40" font-size="12.5" text-anchor="middle" stroke="#000" stroke-width="0.16">41%</text>
<rect x="47.90" y="528.60" width="134.60" height="429.40" fill="none" stroke="#333333" stroke-width="1"/>
<line x1="43.90" y1="939.30" x2="47.90" y2="939.30" stroke="#333333" stroke-width="1.1"/>
<text transform="translate(41.60 943.90) scale(1 1.04)" font-size="12.6" text-anchor="end" fill="#383838" stroke="#383838" stroke-width="0.16">0</text>
<line x1="43.90" y1="841.40" x2="47.90" y2="841.40" stroke="#333333" stroke-width="1.1"/>
<text transform="translate(41.60 846.00) scale(1 1.04)" font-size="12.6" text-anchor="end" fill="#383838" stroke="#383838" stroke-width="0.16">25</text>
<line x1="43.90" y1="743.50" x2="47.90" y2="743.50" stroke="#333333" stroke-width="1.1"/>
<text transform="translate(41.60 748.10) scale(1 1.04)" font-size="12.6" text-anchor="end" fill="#383838" stroke="#383838" stroke-width="0.16">50</text>
<line x1="43.90" y1="645.60" x2="47.90" y2="645.60" stroke="#333333" stroke-width="1.1"/>
<text transform="translate(41.60 650.20) scale(1 1.04)" font-size="12.6" text-anchor="end" fill="#383838" stroke="#383838" stroke-width="0.16">75</text>
<line x1="43.90" y1="547.70" x2="47.90" y2="547.70" stroke="#333333" stroke-width="1.1"/>
<text transform="translate(41.60 552.30) scale(1 1.04)" font-size="12.6" text-anchor="end" fill="#383838" stroke="#383838" stroke-width="0.16">100</text>
<line x1="73.10" y1="958.00" x2="73.10" y2="962.30" stroke="#333333" stroke-width="1.1"/>
<text x="73.10" y="974.00" font-size="12.6" text-anchor="middle" fill="#383838" stroke="#383838" stroke-width="0.16">High</text>
<line x1="115.20" y1="958.00" x2="115.20" y2="962.30" stroke="#333333" stroke-width="1.1"/>
<text x="115.20" y="974.00" font-size="12.6" text-anchor="middle" fill="#383838" stroke="#383838" stroke-width="0.16">Low</text>
<line x1="157.40" y1="958.00" x2="157.40" y2="962.30" stroke="#333333" stroke-width="1.1"/>
<text x="157.40" y="974.00" font-size="12.6" text-anchor="middle" fill="#383838" stroke="#383838" stroke-width="0.16">Medium</text>
<text x="122.20" y="990.60" font-size="15.5" text-anchor="middle" stroke="#000" stroke-width="0.18">Risk Score</text>
<text transform="translate(16.30 743.80) rotate(-90) scale(1 1.1)" font-size="14.55" text-anchor="middle" stroke="#000" stroke-width="0.17">Percent weight</text>
<text x="187.50" y="721.60" font-size="14.8" stroke="#000" stroke-width="0.17">N</text>
<rect x="188.20" y="731.70" width="22.30" height="21.90" fill="#0066FF"/>
<text x="219.50" y="747.10" font-size="12.5" stroke="#000" stroke-width="0.16">N0</text>
<rect x="188.20" y="755.00" width="22.30" height="21.90" fill="#FF0000"/>
<text x="219.50" y="770.40" font-size="12.5" stroke="#000" stroke-width="0.16">N1/N2/N3</text>
<line x1="328.40" y1="890.35" x2="463.50" y2="890.35" stroke="#ebebeb" stroke-width="0.8"/>
<line x1="328.40" y1="792.45" x2="463.50" y2="792.45" stroke="#ebebeb" stroke-width="0.8"/>
<line x1="328.40" y1="694.55" x2="463.50" y2="694.55" stroke="#ebebeb" stroke-width="0.8"/>
<line x1="328.40" y1="596.65" x2="463.50" y2="596.65" stroke="#ebebeb" stroke-width="0.8"/>
<line x1="328.40" y1="939.30" x2="463.50" y2="939.30" stroke="#dfdfdf" stroke-width="1.1"/>
<line x1="328.40" y1="841.40" x2="463.50" y2="841.40" stroke="#dfdfdf" stroke-width="1.1"/>
<line x1="328.40" y1="743.50" x2="463.50" y2="743.50" stroke="#dfdfdf" stroke-width="1.1"/>
<line x1="328.40" y1="645.60" x2="463.50" y2="645.60" stroke="#dfdfdf" stroke-width="1.1"/>
<line x1="328.40" y1="547.70" x2="463.50" y2="547.70" stroke="#dfdfdf" stroke-width="1.1"/>
<line x1="353.80" y1="528.60" x2="353.80" y2="958.00" stroke="#dfdfdf" stroke-width="1.1"/>
<line x1="396.00" y1="528.60" x2="396.00" y2="958.00" stroke="#dfdfdf" stroke-width="1.1"/>
<line x1="438.30" y1="528.60" x2="438.30" y2="958.00" stroke="#dfdfdf" stroke-width="1.1"/>
<rect x="338.95" y="547.70" width="29.70" height="242.01" fill="#0066FF"/>
<rect x="338.95" y="789.71" width="29.70" height="149.59" fill="#FF0000"/>
<rect x="381.15" y="547.70" width="29.70" height="313.28" fill="#0066FF"/>
<rect x="381.15" y="860.98" width="29.70" height="78.32" fill="#FF0000"/>
<rect x="423.45" y="547.70" width="29.70" height="302.32" fill="#0066FF"/>
<rect x="423.45" y="850.02" width="29.70" height="89.28" fill="#FF0000"/>
<text x="355.40" y="672.90" font-size="12.5" text-anchor="middle" stroke="#000" stroke-width="0.16">62%</text>
<text x="355.50" y="868.90" font-size="12.5" text-anchor="middle" stroke="#000" stroke-width="0.16">38%</text>
<text x="395.80" y="708.60" font-size="12.5" text-anchor="middle" stroke="#000" stroke-width="0.16">80%</text>
<text x="395.90" y="904.70" font-size="12.5" text-anchor="middle" stroke="#000" stroke-width="0.16">20%</text>
<text x="439.15" y="703.40" font-size="12.5" text-anchor="middle" stroke="#000" stroke-width="0.16">77%</text>
<text x="439.15" y="899.10" font-size="12.5" text-anchor="middle" stroke="#000" stroke-width="0.16">23%</text>
<rect x="328.40" y="528.60" width="135.10" height="429.40" fill="none" stroke="#333333" stroke-width="1"/>
<line x1="324.40" y1="939.30" x2="328.40" y2="939.30" stroke="#333333" stroke-width="1.1"/>
<text transform="translate(322.10 943.90) scale(1 1.04)" font-size="12.6" text-anchor="end" fill="#383838" stroke="#383838" stroke-width="0.16">0</text>
<line x1="324.40" y1="841.40" x2="328.40" y2="841.40" stroke="#333333" stroke-width="1.1"/>
<text transform="translate(322.10 846.00) scale(1 1.04)" font-size="12.6" text-anchor="end" fill="#383838" stroke="#383838" stroke-width="0.16">25</text>
<line x1="324.40" y1="743.50" x2="328.40" y2="743.50" stroke="#333333" stroke-width="1.1"/>
<text transform="translate(322.10 748.10) scale(1 1.04)" font-size="12.6" text-anchor="end" fill="#383838" stroke="#383838" stroke-width="0.16">50</text>
<line x1="324.40" y1="645.60" x2="328.40" y2="645.60" stroke="#333333" stroke-width="1.1"/>
<text transform="translate(322.10 650.20) scale(1 1.04)" font-size="12.6" text-anchor="end" fill="#383838" stroke="#383838" stroke-width="0.16">75</text>
<line x1="324.40" y1="547.70" x2="328.40" y2="547.70" stroke="#333333" stroke-width="1.1"/>
<text transform="translate(322.10 552.30) scale(1 1.04)" font-size="12.6" text-anchor="end" fill="#383838" stroke="#383838" stroke-width="0.16">100</text>
<line x1="353.80" y1="958.00" x2="353.80" y2="962.30" stroke="#333333" stroke-width="1.1"/>
<text x="353.80" y="974.00" font-size="12.6" text-anchor="middle" fill="#383838" stroke="#383838" stroke-width="0.16">High</text>
<line x1="396.00" y1="958.00" x2="396.00" y2="962.30" stroke="#333333" stroke-width="1.1"/>
<text x="396.00" y="974.00" font-size="12.6" text-anchor="middle" fill="#383838" stroke="#383838" stroke-width="0.16">Low</text>
<line x1="438.30" y1="958.00" x2="438.30" y2="962.30" stroke="#333333" stroke-width="1.1"/>
<text x="438.30" y="974.00" font-size="12.6" text-anchor="middle" fill="#383838" stroke="#383838" stroke-width="0.16">Medium</text>
<text x="401.00" y="990.60" font-size="15.5" text-anchor="middle" stroke="#000" stroke-width="0.18">Risk Score</text>
<text transform="translate(296.80 743.80) rotate(-90) scale(1 1.1)" font-size="14.55" text-anchor="middle" stroke="#000" stroke-width="0.17">Percent weight</text>
<text x="472.30" y="721.60" font-size="14.8" stroke="#000" stroke-width="0.17">Stage</text>
<rect x="473.00" y="731.70" width="22.30" height="21.90" fill="#0066FF"/>
<text x="504.30" y="747.10" font-size="12.5" stroke="#000" stroke-width="0.16">Stage I/Stage II</text>
<rect x="473.00" y="755.00" width="22.30" height="21.90" fill="#FF0000"/>
<text x="504.30" y="770.40" font-size="12.5" stroke="#000" stroke-width="0.16">Stage III/Stage IV</text>
<line x1="665.70" y1="890.35" x2="801.30" y2="890.35" stroke="#ebebeb" stroke-width="0.8"/>
<line x1="665.70" y1="792.45" x2="801.30" y2="792.45" stroke="#ebebeb" stroke-width="0.8"/>
<line x1="665.70" y1="694.55" x2="801.30" y2="694.55" stroke="#ebebeb" stroke-width="0.8"/>
<line x1="665.70" y1="596.65" x2="801.30" y2="596.65" stroke="#ebebeb" stroke-width="0.8"/>
<line x1="665.70" y1="939.30" x2="801.30" y2="939.30" stroke="#dfdfdf" stroke-width="1.1"/>
<line x1="665.70" y1="841.40" x2="801.30" y2="841.40" stroke="#dfdfdf" stroke-width="1.1"/>
<line x1="665.70" y1="743.50" x2="801.30" y2="743.50" stroke="#dfdfdf" stroke-width="1.1"/>
<line x1="665.70" y1="645.60" x2="801.30" y2="645.60" stroke="#dfdfdf" stroke-width="1.1"/>
<line x1="665.70" y1="547.70" x2="801.30" y2="547.70" stroke="#dfdfdf" stroke-width="1.1"/>
<line x1="691.10" y1="528.60" x2="691.10" y2="958.00" stroke="#dfdfdf" stroke-width="1.1"/>
<line x1="733.70" y1="528.60" x2="733.70" y2="958.00" stroke="#dfdfdf" stroke-width="1.1"/>
<line x1="776.15" y1="528.60" x2="776.15" y2="958.00" stroke="#dfdfdf" stroke-width="1.1"/>
<rect x="676.25" y="547.70" width="29.70" height="298.79" fill="#0066FF"/>
<rect x="676.25" y="846.49" width="29.70" height="92.81" fill="#FF0000"/>
<rect x="718.85" y="547.70" width="29.70" height="345.39" fill="#0066FF"/>
<rect x="718.85" y="893.09" width="29.70" height="46.21" fill="#FF0000"/>
<rect x="761.30" y="547.70" width="29.70" height="351.66" fill="#0066FF"/>
<rect x="761.30" y="899.36" width="29.70" height="39.94" fill="#FF0000"/>
<text x="691.60" y="701.80" font-size="12.5" text-anchor="middle" stroke="#000" stroke-width="0.16">76%</text>
<text x="691.60" y="897.60" font-size="12.5" text-anchor="middle" stroke="#000" stroke-width="0.16">24%</text>
<text x="734.50" y="725.00" font-size="12.5" text-anchor="middle" stroke="#000" stroke-width="0.16">88%</text>
<text x="734.90" y="920.80" font-size="12.5" text-anchor="middle" stroke="#000" stroke-width="0.16">12%</text>
<text x="776.00" y="727.85" font-size="12.5" text-anchor="middle" stroke="#000" stroke-width="0.16">90%</text>
<text x="776.30" y="923.80" font-size="12.5" text-anchor="middle" stroke="#000" stroke-width="0.16">10%</text>
<rect x="665.70" y="528.60" width="135.60" height="429.40" fill="none" stroke="#333333" stroke-width="1"/>
<line x1="661.70" y1="939.30" x2="665.70" y2="939.30" stroke="#333333" stroke-width="1.1"/>
<text transform="translate(659.40 943.90) scale(1 1.04)" font-size="12.6" text-anchor="end" fill="#383838" stroke="#383838" stroke-width="0.16">0</text>
<line x1="661.70" y1="841.40" x2="665.70" y2="841.40" stroke="#333333" stroke-width="1.1"/>
<text transform="translate(659.40 846.00) scale(1 1.04)" font-size="12.6" text-anchor="end" fill="#383838" stroke="#383838" stroke-width="0.16">25</text>
<line x1="661.70" y1="743.50" x2="665.70" y2="743.50" stroke="#333333" stroke-width="1.1"/>
<text transform="translate(659.40 748.10) scale(1 1.04)" font-size="12.6" text-anchor="end" fill="#383838" stroke="#383838" stroke-width="0.16">50</text>
<line x1="661.70" y1="645.60" x2="665.70" y2="645.60" stroke="#333333" stroke-width="1.1"/>
<text transform="translate(659.40 650.20) scale(1 1.04)" font-size="12.6" text-anchor="end" fill="#383838" stroke="#383838" stroke-width="0.16">75</text>
<line x1="661.70" y1="547.70" x2="665.70" y2="547.70" stroke="#333333" stroke-width="1.1"/>
<text transform="translate(659.40 552.30) scale(1 1.04)" font-size="12.6" text-anchor="end" fill="#383838" stroke="#383838" stroke-width="0.16">100</text>
<line x1="691.10" y1="958.00" x2="691.10" y2="962.30" stroke="#333333" stroke-width="1.1"/>
<text x="691.10" y="974.00" font-size="12.6" text-anchor="middle" fill="#383838" stroke="#383838" stroke-width="0.16">High</text>
<line x1="733.70" y1="958.00" x2="733.70" y2="962.30" stroke="#333333" stroke-width="1.1"/>
<text x="733.70" y="974.00" font-size="12.6" text-anchor="middle" fill="#383838" stroke="#383838" stroke-width="0.16">Low</text>
<line x1="776.15" y1="958.00" x2="776.15" y2="962.30" stroke="#333333" stroke-width="1.1"/>
<text x="776.15" y="974.00" font-size="12.6" text-anchor="middle" fill="#383838" stroke="#383838" stroke-width="0.16">Medium</text>
<text x="738.00" y="990.60" font-size="15.5" text-anchor="middle" stroke="#000" stroke-width="0.18">Risk Score</text>
<text transform="translate(634.30 743.80) rotate(-90) scale(1 1.1)" font-size="14.55" text-anchor="middle" stroke="#000" stroke-width="0.17">Percent weight</text>
<text x="810.00" y="721.60" font-size="14.8" stroke="#000" stroke-width="0.17">T</text>
<rect x="810.70" y="731.70" width="22.30" height="21.90" fill="#0066FF"/>
<text x="842.00" y="747.10" font-size="12.5" stroke="#000" stroke-width="0.16">T1/T2</text>
<rect x="810.70" y="755.00" width="22.30" height="21.90" fill="#FF0000"/>
<text x="842.00" y="770.40" font-size="12.5" stroke="#000" stroke-width="0.16">T3/T4</text>
</g>
<g id="roc">
<clipPath id="c936"><rect x="936.5" y="57.3" width="291.79999999999995" height="255.09999999999997"/></clipPath>
<g clip-path="url(#c936)">
<line x1="919.78" y1="327.36" x2="1244.67" y2="43.44" stroke="#262626" stroke-width="1.15"/>
<polyline points="946.85,303.74 946.85,282.53 947.98,281.40 947.98,277.89 949.66,277.33 949.66,264.55 952.75,264.27 952.75,256.54 953.60,255.84 953.60,251.91 955.00,251.35 955.00,243.20 955.70,242.50 955.70,238.43 965.11,238.43 965.11,230.56 965.96,229.86 965.96,225.79 968.76,225.79 968.76,217.36 971.85,217.36 971.85,213.15 974.80,213.15 974.80,204.02 984.35,204.02 984.35,194.75 994.33,194.75 994.33,190.39 1008.65,190.39 1008.65,186.18 1017.78,186.18 1017.78,186.24 1017.78,177.53 1030.14,177.53 1030.14,173.60 1032.11,172.89 1032.11,169.38 1033.93,168.68 1033.93,163.76 1035.62,163.06 1035.62,158.85 1037.02,158.85 1037.02,150.84 1045.17,150.84 1045.17,146.91 1046.57,146.21 1046.57,142.28 1051.77,142.28 1051.77,137.78 1056.40,137.78 1056.40,133.01 1072.42,133.01 1072.42,128.65 1074.66,127.95 1074.66,124.02 1076.77,123.31 1076.77,119.52 1083.09,119.52 1083.09,115.03 1088.99,115.03 1088.99,110.53 1108.37,110.53 1108.37,105.90 1119.47,105.90 1119.47,101.69 1125.51,101.69 1125.51,93.26 1144.04,93.26 1144.04,88.62 1153.60,88.62 1153.60,79.92 1164.13,79.92 1164.13,71.49 1203.46,71.49 1203.46,66.85 1217.60,67.10" fill="none" stroke="#E31A1C" stroke-width="1.45" stroke-linejoin="round"/>
<polyline points="946.85,303.70 947.98,303.31 949.66,292.36 954.58,292.36 962.58,293.06 965.81,287.44 977.75,276.63 986.18,269.33 993.20,261.74 1000.22,254.86 1007.25,248.68 1014.27,243.90 1021.29,241.10 1023.40,234.78 1029.02,218.62 1040.96,218.62 1045.17,217.92 1049.38,208.09 1054.72,195.45 1064.83,189.83 1076.07,183.93 1085.48,184.13 1100.22,178.51 1106.97,178.51 1111.46,172.89 1118.48,173.17 1129.02,167.28 1147.98,132.16 1155.00,126.54 1157.11,120.93 1163.43,114.89 1180.98,114.89 1187.30,108.71 1197.84,108.71 1200.65,93.54 1202.75,90.73 1206.97,85.11 1208.37,79.49 1212.58,79.07 1215.39,72.47 1216.80,68.96 1217.60,67.10" fill="none" stroke="#E6A21A" stroke-width="1.45" stroke-linejoin="round"/>
<polyline points="946.85,303.70 1073.26,164.47 1217.60,67.10" fill="none" stroke="#33DD11" stroke-width="1.45" stroke-linejoin="round"/>
<polyline points="946.85,303.70 964.69,284.21 1000.22,184.21 1062.72,108.71 1217.60,67.10" fill="none" stroke="#11DD33" stroke-width="1.45" stroke-linejoin="round"/>
<polyline points="946.85,303.70 976.35,228.46 1126.91,95.65 1217.60,67.10" fill="none" stroke="#11DDDD" stroke-width="1.45" stroke-linejoin="round"/>
<polyline points="946.85,303.70 1028.10,230.30 1217.60,67.10" fill="none" stroke="#1133DD" stroke-width="1.45" stroke-linejoin="round"/>
<polyline points="946.85,303.70 979.58,220.03 1034.63,161.66 1217.60,67.10" fill="none" stroke="#7711EE" stroke-width="1.45" stroke-linejoin="round"/>
</g>
<rect x="936.50" y="57.30" width="291.80" height="255.10" fill="none" stroke="#585858" stroke-width="1.1"/>
<line x1="946.85" y1="312.40" x2="946.85" y2="318.40" stroke="#585858" stroke-width="1.1"/>
<text transform="translate(946.85 335.30) scale(1 1.12)" font-size="10.1" text-anchor="middle" stroke="#000" stroke-width="0.15">0.0</text>
<line x1="930.50" y1="303.70" x2="936.50" y2="303.70" stroke="#585858" stroke-width="1.1"/>
<text transform="translate(921.90 303.70) rotate(-90) scale(1 1.12)" font-size="10.1" text-anchor="middle" stroke="#000" stroke-width="0.15">0.0</text>
<line x1="1001.00" y1="312.40" x2="1001.00" y2="318.40" stroke="#585858" stroke-width="1.1"/>
<text transform="translate(1001.00 335.30) scale(1 1.12)" font-size="10.1" text-anchor="middle" stroke="#000" stroke-width="0.15">0.2</text>
<line x1="930.50" y1="256.38" x2="936.50" y2="256.38" stroke="#585858" stroke-width="1.1"/>
<text transform="translate(921.90 256.38) rotate(-90) scale(1 1.12)" font-size="10.1" text-anchor="middle" stroke="#000" stroke-width="0.15">0.2</text>
<line x1="1055.15" y1="312.40" x2="1055.15" y2="318.40" stroke="#585858" stroke-width="1.1"/>
<text transform="translate(1055.15 335.30) scale(1 1.12)" font-size="10.1" text-anchor="middle" stroke="#000" stroke-width="0.15">0.4</text>
<line x1="930.50" y1="209.06" x2="936.50" y2="209.06" stroke="#585858" stroke-width="1.1"/>
<text transform="translate(921.90 209.06) rotate(-90) scale(1 1.12)" font-size="10.1" text-anchor="middle" stroke="#000" stroke-width="0.15">0.4</text>
<line x1="1109.30" y1="312.40" x2="1109.30" y2="318.40" stroke="#585858" stroke-width="1.1"/>
<text transform="translate(1109.30 335.30) scale(1 1.12)" font-size="10.1" text-anchor="middle" stroke="#000" stroke-width="0.15">0.6</text>
<line x1="930.50" y1="161.74" x2="936.50" y2="161.74" stroke="#585858" stroke-width="1.1"/>
<text transform="translate(921.90 161.74) rotate(-90) scale(1 1.12)" font-size="10.1" text-anchor="middle" stroke="#000" stroke-width="0.15">0.6</text>
<line x1="1163.45" y1="312.40" x2="1163.45" y2="318.40" stroke="#585858" stroke-width="1.1"/>
<text transform="translate(1163.45 335.30) scale(1 1.12)" font-size="10.1" text-anchor="middle" stroke="#000" stroke-width="0.15">0.8</text>
<line x1="930.50" y1="114.42" x2="936.50" y2="114.42" stroke="#585858" stroke-width="1.1"/>
<text transform="translate(921.90 114.42) rotate(-90) scale(1 1.12)" font-size="10.1" text-anchor="middle" stroke="#000" stroke-width="0.15">0.8</text>
<line x1="1217.60" y1="312.40" x2="1217.60" y2="318.40" stroke="#585858" stroke-width="1.1"/>
<text transform="translate(1217.60 335.30) scale(1 1.12)" font-size="10.1" text-anchor="middle" stroke="#000" stroke-width="0.15">1.0</text>
<line x1="930.50" y1="67.10" x2="936.50" y2="67.10" stroke="#585858" stroke-width="1.1"/>
<text transform="translate(921.90 67.10) rotate(-90) scale(1 1.12)" font-size="10.1" text-anchor="middle" stroke="#000" stroke-width="0.15">1.0</text>
<text x="1082.40" y="359.90" font-size="10.1" text-anchor="middle" stroke="#000" stroke-width="0.15">1−Specificity</text>
<text transform="translate(897.00 184.85) rotate(-90)" font-size="10.1" text-anchor="middle" stroke="#000" stroke-width="0.15">Sensitivity</text>
<line x1="1103.70" y1="227.10" x2="1123.20" y2="227.10" stroke="#E31A1C" stroke-width="1.5"/>
<text x="1132.20" y="230.70" font-size="10.2" stroke="#000" stroke-width="0.15">Risk, AUC=0.715</text>
<line x1="1103.70" y1="239.38" x2="1123.20" y2="239.38" stroke="#E6A21A" stroke-width="1.5"/>
<text x="1132.20" y="242.98" font-size="10.2" stroke="#000" stroke-width="0.15">Age, AUC=0.485</text>
<line x1="1103.70" y1="251.66" x2="1123.20" y2="251.66" stroke="#33DD11" stroke-width="1.5"/>
<text x="1132.20" y="255.26" font-size="10.2" stroke="#000" stroke-width="0.15">Gender, AUC=0.561</text>
<line x1="1103.70" y1="263.94" x2="1123.20" y2="263.94" stroke="#11DD33" stroke-width="1.5"/>
<text x="1132.20" y="267.54" font-size="10.2" stroke="#000" stroke-width="0.15">Stage, AUC=0.716</text>
<line x1="1103.70" y1="276.22" x2="1123.20" y2="276.22" stroke="#11DDDD" stroke-width="1.5"/>
<text x="1132.20" y="279.82" font-size="10.2" stroke="#000" stroke-width="0.15">T, AUC=0.663</text>
<line x1="1103.70" y1="288.50" x2="1123.20" y2="288.50" stroke="#1133DD" stroke-width="1.5"/>
<text x="1132.20" y="292.10" font-size="10.2" stroke="#000" stroke-width="0.15">M, AUC=0.504</text>
<line x1="1103.70" y1="300.78" x2="1123.20" y2="300.78" stroke="#7711EE" stroke-width="1.5"/>
<text x="1132.20" y="304.38" font-size="10.2" stroke="#000" stroke-width="0.15">N, AUC=0.657</text>
<clipPath id="c1294"><rect x="1294.8" y="57.3" width="292.5" height="255.09999999999997"/></clipPath>
<g clip-path="url(#c1294)">
<line x1="1278.35" y1="327.36" x2="1603.61" y2="43.44" stroke="#262626" stroke-width="1.15"/>
<polyline points="1305.45,303.74 1305.45,295.17 1306.57,294.47 1306.57,280.84 1308.26,280.14 1308.26,277.33 1310.65,276.91 1310.65,270.59 1312.47,269.89 1312.47,266.38 1319.49,266.38 1319.49,258.37 1321.60,257.95 1321.60,244.61 1323.29,243.90 1323.29,236.46 1325.39,235.90 1325.39,232.81 1329.33,232.81 1329.33,222.42 1333.54,222.13 1333.54,218.62 1337.75,218.20 1339.86,215.39 1343.37,215.11 1343.37,206.69 1346.18,205.28 1353.90,205.28 1353.90,201.07 1356.01,199.66 1358.12,196.15 1360.22,191.94 1362.33,190.11 1362.33,181.32 1368.65,181.32 1368.65,175.00 1370.76,174.30 1372.87,170.79 1379.19,170.08 1379.19,165.45 1388.31,165.17 1388.31,154.63 1390.42,153.93 1390.42,151.12 1394.92,151.12 1394.92,144.80 1398.71,144.10 1398.71,139.89 1402.64,139.19 1405.45,137.08 1408.26,135.39 1411.77,134.27 1411.77,129.35 1414.16,128.65 1414.16,125.84 1427.64,125.84 1427.64,120.51 1431.85,120.22 1431.85,116.99 1436.07,116.71 1436.07,113.90 1449.69,113.90 1449.69,108.71 1454.33,108.29 1454.33,107.30 1460.93,107.30 1460.93,104.49 1463.03,104.07 1463.03,98.46 1465.84,97.05 1481.29,97.05 1481.29,94.24 1490.42,94.24 1490.42,91.71 1495.06,88.62 1503.76,88.62 1503.76,85.81 1517.81,85.81 1517.81,83.29 1519.92,83.01 1519.92,80.20 1522.02,79.78 1522.02,75.98 1527.64,75.70 1527.64,74.58 1543.09,74.58 1543.09,71.49 1552.64,71.49 1552.64,68.26 1572.58,68.26 1576.50,67.10" fill="none" stroke="#E31A1C" stroke-width="1.45" stroke-linejoin="round"/>
<polyline points="1305.45,303.70 1305.17,295.17 1307.56,294.47 1312.47,293.76 1323.71,283.23 1326.52,283.65 1337.75,275.51 1340.56,269.89 1347.58,257.95 1354.61,253.74 1360.22,252.33 1368.65,244.61 1378.48,236.18 1379.89,227.75 1381.29,217.22 1393.93,211.18 1400.96,201.07 1410.79,191.94 1424.83,185.90 1431.85,180.70 1432.84,179.21 1440.56,176.83 1446.18,175.00 1453.20,173.31 1458.82,170.79 1468.65,166.57 1474.27,165.17 1481.29,160.96 1491.12,151.12 1500.96,139.89 1507.28,128.65 1524.83,126.54 1528.34,123.03 1531.15,116.71 1547.30,114.61 1558.54,111.10 1558.26,95.65 1564.86,95.65 1565.56,91.43 1568.65,90.03 1568.65,80.20 1572.58,78.09 1572.58,68.26 1573.99,66.85 1576.50,67.10" fill="none" stroke="#E6A21A" stroke-width="1.45" stroke-linejoin="round"/>
<polyline points="1305.45,303.70 1427.42,192.97 1576.50,67.10" fill="none" stroke="#33DD11" stroke-width="1.45" stroke-linejoin="round"/>
<polyline points="1305.45,303.70 1337.05,236.18 1360.93,189.97 1395.34,141.99 1576.50,67.10" fill="none" stroke="#11DD33" stroke-width="1.45" stroke-linejoin="round"/>
<polyline points="1305.45,303.70 1320.20,245.73 1477.78,112.50 1576.50,67.10" fill="none" stroke="#11DDDD" stroke-width="1.45" stroke-linejoin="round"/>
<polyline points="1305.45,303.70 1317.39,278.31 1576.50,67.10" fill="none" stroke="#1133DD" stroke-width="1.45" stroke-linejoin="round"/>
<polyline points="1305.45,303.70 1335.93,235.06 1367.95,171.49 1576.50,67.10" fill="none" stroke="#7711EE" stroke-width="1.45" stroke-linejoin="round"/>
</g>
<rect x="1294.80" y="57.30" width="292.50" height="255.10" fill="none" stroke="#585858" stroke-width="1.1"/>
<line x1="1305.45" y1="312.40" x2="1305.45" y2="318.40" stroke="#585858" stroke-width="1.1"/>
<text transform="translate(1305.45 335.30) scale(1 1.12)" font-size="10.1" text-anchor="middle" stroke="#000" stroke-width="0.15">0.0</text>
<line x1="1288.80" y1="303.70" x2="1294.80" y2="303.70" stroke="#585858" stroke-width="1.1"/>
<text transform="translate(1280.20 303.70) rotate(-90) scale(1 1.12)" font-size="10.1" text-anchor="middle" stroke="#000" stroke-width="0.15">0.0</text>
<line x1="1359.66" y1="312.40" x2="1359.66" y2="318.40" stroke="#585858" stroke-width="1.1"/>
<text transform="translate(1359.66 335.30) scale(1 1.12)" font-size="10.1" text-anchor="middle" stroke="#000" stroke-width="0.15">0.2</text>
<line x1="1288.80" y1="256.38" x2="1294.80" y2="256.38" stroke="#585858" stroke-width="1.1"/>
<text transform="translate(1280.20 256.38) rotate(-90) scale(1 1.12)" font-size="10.1" text-anchor="middle" stroke="#000" stroke-width="0.15">0.2</text>
<line x1="1413.87" y1="312.40" x2="1413.87" y2="318.40" stroke="#585858" stroke-width="1.1"/>
<text transform="translate(1413.87 335.30) scale(1 1.12)" font-size="10.1" text-anchor="middle" stroke="#000" stroke-width="0.15">0.4</text>
<line x1="1288.80" y1="209.06" x2="1294.80" y2="209.06" stroke="#585858" stroke-width="1.1"/>
<text transform="translate(1280.20 209.06) rotate(-90) scale(1 1.12)" font-size="10.1" text-anchor="middle" stroke="#000" stroke-width="0.15">0.4</text>
<line x1="1468.08" y1="312.40" x2="1468.08" y2="318.40" stroke="#585858" stroke-width="1.1"/>
<text transform="translate(1468.08 335.30) scale(1 1.12)" font-size="10.1" text-anchor="middle" stroke="#000" stroke-width="0.15">0.6</text>
<line x1="1288.80" y1="161.74" x2="1294.80" y2="161.74" stroke="#585858" stroke-width="1.1"/>
<text transform="translate(1280.20 161.74) rotate(-90) scale(1 1.12)" font-size="10.1" text-anchor="middle" stroke="#000" stroke-width="0.15">0.6</text>
<line x1="1522.29" y1="312.40" x2="1522.29" y2="318.40" stroke="#585858" stroke-width="1.1"/>
<text transform="translate(1522.29 335.30) scale(1 1.12)" font-size="10.1" text-anchor="middle" stroke="#000" stroke-width="0.15">0.8</text>
<line x1="1288.80" y1="114.42" x2="1294.80" y2="114.42" stroke="#585858" stroke-width="1.1"/>
<text transform="translate(1280.20 114.42) rotate(-90) scale(1 1.12)" font-size="10.1" text-anchor="middle" stroke="#000" stroke-width="0.15">0.8</text>
<line x1="1576.50" y1="312.40" x2="1576.50" y2="318.40" stroke="#585858" stroke-width="1.1"/>
<text transform="translate(1576.50 335.30) scale(1 1.12)" font-size="10.1" text-anchor="middle" stroke="#000" stroke-width="0.15">1.0</text>
<line x1="1288.80" y1="67.10" x2="1294.80" y2="67.10" stroke="#585858" stroke-width="1.1"/>
<text transform="translate(1280.20 67.10) rotate(-90) scale(1 1.12)" font-size="10.1" text-anchor="middle" stroke="#000" stroke-width="0.15">1.0</text>
<text x="1441.05" y="359.90" font-size="10.1" text-anchor="middle" stroke="#000" stroke-width="0.15">1−Specificity</text>
<text transform="translate(1256.00 184.85) rotate(-90)" font-size="10.1" text-anchor="middle" stroke="#000" stroke-width="0.15">Sensitivity</text>
<line x1="1462.00" y1="227.10" x2="1481.50" y2="227.10" stroke="#E31A1C" stroke-width="1.5"/>
<text x="1490.50" y="230.70" font-size="10.2" stroke="#000" stroke-width="0.15">Risk, AUC=0.719</text>
<line x1="1462.00" y1="239.38" x2="1481.50" y2="239.38" stroke="#E6A21A" stroke-width="1.5"/>
<text x="1490.50" y="242.98" font-size="10.2" stroke="#000" stroke-width="0.15">Age, AUC=0.501</text>
<line x1="1462.00" y1="251.66" x2="1481.50" y2="251.66" stroke="#33DD11" stroke-width="1.5"/>
<text x="1490.50" y="255.26" font-size="10.2" stroke="#000" stroke-width="0.15">Gender, AUC=0.509</text>
<line x1="1462.00" y1="263.94" x2="1481.50" y2="263.94" stroke="#11DD33" stroke-width="1.5"/>
<text x="1490.50" y="267.54" font-size="10.2" stroke="#000" stroke-width="0.15">Stage, AUC=0.688</text>
<line x1="1462.00" y1="276.22" x2="1481.50" y2="276.22" stroke="#11DDDD" stroke-width="1.5"/>
<text x="1490.50" y="279.82" font-size="10.2" stroke="#000" stroke-width="0.15">T, AUC=0.640</text>
<line x1="1462.00" y1="288.50" x2="1481.50" y2="288.50" stroke="#1133DD" stroke-width="1.5"/>
<text x="1490.50" y="292.10" font-size="10.2" stroke="#000" stroke-width="0.15">M, AUC=0.530</text>
<line x1="1462.00" y1="300.78" x2="1481.50" y2="300.78" stroke="#7711EE" stroke-width="1.5"/>
<text x="1490.50" y="304.38" font-size="10.2" stroke="#000" stroke-width="0.15">N, AUC=0.665</text>
<clipPath id="c1651"><rect x="1651.6" y="58.7" width="292.4000000000001" height="254.40000000000003"/></clipPath>
<g clip-path="url(#c1651)">
<line x1="1635.55" y1="327.95" x2="1959.82" y2="44.15" stroke="#262626" stroke-width="1.15"/>
<polyline points="1662.57,304.30 1662.29,280.42 1666.79,280.42 1666.79,275.93 1671.70,275.93 1671.70,250.22 1676.48,250.22 1676.48,235.62 1681.39,235.62 1681.39,228.88 1686.73,228.88 1686.73,222.98 1691.65,222.98 1691.65,211.60 1696.84,211.60 1696.84,197.56 1702.18,197.56 1702.18,193.62 1707.38,193.62 1707.38,190.25 1712.99,190.25 1712.99,182.11 1723.25,182.02 1723.25,171.49 1728.58,171.49 1728.58,163.76 1733.78,163.76 1733.78,160.96 1739.40,160.96 1739.40,156.04 1745.02,156.04 1745.02,146.21 1766.37,146.21 1766.37,139.47 1777.18,139.47 1777.18,137.50 1788.56,137.50 1788.56,135.25 1793.75,135.25 1793.75,132.87 1809.90,132.87 1809.90,122.61 1821.14,122.61 1821.14,115.59 1826.34,115.59 1826.34,112.78 1832.10,112.78 1832.10,111.10 1843.19,111.10 1843.19,101.97 1854.43,101.97 1854.43,94.66 1881.53,94.66 1881.53,89.75 1887.85,89.75 1887.85,87.64 1893.19,87.64 1893.19,84.83 1898.81,84.83 1898.81,81.18 1904.71,81.18 1904.71,78.79 1910.33,78.79 1910.33,76.40 1915.94,76.40 1915.94,73.88 1921.28,73.88 1921.28,68.54 1928.58,68.54 1932.80,67.80" fill="none" stroke="#E31A1C" stroke-width="1.45" stroke-linejoin="round"/>
<polyline points="1662.57,304.30 1662.29,290.96 1667.07,286.74 1674.09,283.23 1682.52,281.40 1689.54,279.72 1696.56,278.03 1704.99,274.10 1712.01,264.97 1713.42,263.99 1720.44,261.46 1721.14,255.84 1722.54,251.63 1730.27,243.20 1737.29,234.78 1744.31,222.84 1748.53,220.73 1753.87,218.20 1753.87,212.02 1762.57,203.88 1769.60,199.66 1780.83,192.64 1792.07,184.92 1800.78,180.62 1813.42,173.60 1818.75,169.10 1818.75,162.78 1822.54,161.66 1828.87,161.66 1839.40,160.25 1839.40,145.51 1842.91,142.70 1849.93,139.89 1856.96,138.48 1861.17,137.08 1872.40,128.65 1882.24,125.14 1883.64,123.03 1894.88,118.54 1906.81,117.42 1906.81,111.80 1919.74,100.28 1919.74,90.73 1933.22,90.73 1933.22,68.96 1932.80,67.80" fill="none" stroke="#E6A21A" stroke-width="1.45" stroke-linejoin="round"/>
<polyline points="1662.57,304.30 1811.18,180.37 1932.80,67.80" fill="none" stroke="#33DD11" stroke-width="1.45" stroke-linejoin="round"/>
<polyline points="1662.57,304.30 1669.00,284.70 1739.40,169.38 1932.80,67.80" fill="none" stroke="#11DD33" stroke-width="1.45" stroke-linejoin="round"/>
<polyline points="1662.57,304.30 1673.39,290.96 1673.39,265.67 1811.73,111.10 1932.80,67.80" fill="none" stroke="#11DDDD" stroke-width="1.45" stroke-linejoin="round"/>
<polyline points="1662.57,304.30 1668.19,283.93 1932.80,67.80" fill="none" stroke="#1133DD" stroke-width="1.45" stroke-linejoin="round"/>
<polyline points="1662.57,304.30 1719.03,195.45 1932.80,67.80" fill="none" stroke="#7711EE" stroke-width="1.45" stroke-linejoin="round"/>
</g>
<rect x="1651.60" y="58.70" width="292.40" height="254.40" fill="none" stroke="#585858" stroke-width="1.1"/>
<line x1="1662.57" y1="313.10" x2="1662.57" y2="319.10" stroke="#585858" stroke-width="1.1"/>
<text transform="translate(1662.57 336.00) scale(1 1.12)" font-size="10.1" text-anchor="middle" stroke="#000" stroke-width="0.15">0.0</text>
<line x1="1645.60" y1="304.30" x2="1651.60" y2="304.30" stroke="#585858" stroke-width="1.1"/>
<text transform="translate(1637.00 304.30) rotate(-90) scale(1 1.12)" font-size="10.1" text-anchor="middle" stroke="#000" stroke-width="0.15">0.0</text>
<line x1="1716.62" y1="313.10" x2="1716.62" y2="319.10" stroke="#585858" stroke-width="1.1"/>
<text transform="translate(1716.62 336.00) scale(1 1.12)" font-size="10.1" text-anchor="middle" stroke="#000" stroke-width="0.15">0.2</text>
<line x1="1645.60" y1="257.00" x2="1651.60" y2="257.00" stroke="#585858" stroke-width="1.1"/>
<text transform="translate(1637.00 257.00) rotate(-90) scale(1 1.12)" font-size="10.1" text-anchor="middle" stroke="#000" stroke-width="0.15">0.2</text>
<line x1="1770.66" y1="313.10" x2="1770.66" y2="319.10" stroke="#585858" stroke-width="1.1"/>
<text transform="translate(1770.66 336.00) scale(1 1.12)" font-size="10.1" text-anchor="middle" stroke="#000" stroke-width="0.15">0.4</text>
<line x1="1645.60" y1="209.70" x2="1651.60" y2="209.70" stroke="#585858" stroke-width="1.1"/>
<text transform="translate(1637.00 209.70) rotate(-90) scale(1 1.12)" font-size="10.1" text-anchor="middle" stroke="#000" stroke-width="0.15">0.4</text>
<line x1="1824.71" y1="313.10" x2="1824.71" y2="319.10" stroke="#585858" stroke-width="1.1"/>
<text transform="translate(1824.71 336.00) scale(1 1.12)" font-size="10.1" text-anchor="middle" stroke="#000" stroke-width="0.15">0.6</text>
<line x1="1645.60" y1="162.40" x2="1651.60" y2="162.40" stroke="#585858" stroke-width="1.1"/>
<text transform="translate(1637.00 162.40) rotate(-90) scale(1 1.12)" font-size="10.1" text-anchor="middle" stroke="#000" stroke-width="0.15">0.6</text>
<line x1="1878.75" y1="313.10" x2="1878.75" y2="319.10" stroke="#585858" stroke-width="1.1"/>
<text transform="translate(1878.75 336.00) scale(1 1.12)" font-size="10.1" text-anchor="middle" stroke="#000" stroke-width="0.15">0.8</text>
<line x1="1645.60" y1="115.10" x2="1651.60" y2="115.10" stroke="#585858" stroke-width="1.1"/>
<text transform="translate(1637.00 115.10) rotate(-90) scale(1 1.12)" font-size="10.1" text-anchor="middle" stroke="#000" stroke-width="0.15">0.8</text>
<line x1="1932.80" y1="313.10" x2="1932.80" y2="319.10" stroke="#585858" stroke-width="1.1"/>
<text transform="translate(1932.80 336.00) scale(1 1.12)" font-size="10.1" text-anchor="middle" stroke="#000" stroke-width="0.15">1.0</text>
<line x1="1645.60" y1="67.80" x2="1651.60" y2="67.80" stroke="#585858" stroke-width="1.1"/>
<text transform="translate(1637.00 67.80) rotate(-90) scale(1 1.12)" font-size="10.1" text-anchor="middle" stroke="#000" stroke-width="0.15">1.0</text>
<text x="1797.80" y="360.60" font-size="10.1" text-anchor="middle" stroke="#000" stroke-width="0.15">1−Specificity</text>
<text transform="translate(1612.50 185.90) rotate(-90)" font-size="10.1" text-anchor="middle" stroke="#000" stroke-width="0.15">Sensitivity</text>
<line x1="1818.80" y1="228.20" x2="1838.30" y2="228.20" stroke="#E31A1C" stroke-width="1.5"/>
<text x="1847.30" y="231.80" font-size="10.2" stroke="#000" stroke-width="0.15">Risk, AUC=0.699</text>
<line x1="1818.80" y1="240.48" x2="1838.30" y2="240.48" stroke="#E6A21A" stroke-width="1.5"/>
<text x="1847.30" y="244.08" font-size="10.2" stroke="#000" stroke-width="0.15">Age, AUC=0.492</text>
<line x1="1818.80" y1="252.76" x2="1838.30" y2="252.76" stroke="#33DD11" stroke-width="1.5"/>
<text x="1847.30" y="256.36" font-size="10.2" stroke="#000" stroke-width="0.15">Gender, AUC=0.488</text>
<line x1="1818.80" y1="265.04" x2="1838.30" y2="265.04" stroke="#11DD33" stroke-width="1.5"/>
<text x="1847.30" y="268.64" font-size="10.2" stroke="#000" stroke-width="0.15">Stage, AUC=0.644</text>
<line x1="1818.80" y1="277.32" x2="1838.30" y2="277.32" stroke="#11DDDD" stroke-width="1.5"/>
<text x="1847.30" y="280.92" font-size="10.2" stroke="#000" stroke-width="0.15">T, AUC=0.658</text>
<line x1="1818.80" y1="289.60" x2="1838.30" y2="289.60" stroke="#1133DD" stroke-width="1.5"/>
<text x="1847.30" y="293.20" font-size="10.2" stroke="#000" stroke-width="0.15">M, AUC=0.532</text>
<line x1="1818.80" y1="301.88" x2="1838.30" y2="301.88" stroke="#7711EE" stroke-width="1.5"/>
<text x="1847.30" y="305.48" font-size="10.2" stroke="#000" stroke-width="0.15">N, AUC=0.624</text>
</g>
<g id="cindex">
<line x1="964.40" y1="892.90" x2="964.40" y2="581.18" stroke="#2b2b2b" stroke-width="1.4"/>
<line x1="957.20" y1="892.30" x2="964.40" y2="892.30" stroke="#2b2b2b" stroke-width="1.4"/>
<text transform="translate(946.50 892.80) rotate(-90) scale(1 1.05)" font-size="15.4" text-anchor="middle" stroke="#000" stroke-width="0.18">0.4</text>
<line x1="957.20" y1="814.67" x2="964.40" y2="814.67" stroke="#2b2b2b" stroke-width="1.4"/>
<text transform="translate(946.50 815.17) rotate(-90) scale(1 1.05)" font-size="15.4" text-anchor="middle" stroke="#000" stroke-width="0.18">0.5</text>
<line x1="957.20" y1="737.04" x2="964.40" y2="737.04" stroke="#2b2b2b" stroke-width="1.4"/>
<text transform="translate(946.50 737.54) rotate(-90) scale(1 1.05)" font-size="15.4" text-anchor="middle" stroke="#000" stroke-width="0.18">0.6</text>
<line x1="957.20" y1="659.41" x2="964.40" y2="659.41" stroke="#2b2b2b" stroke-width="1.4"/>
<text transform="translate(946.50 659.91) rotate(-90) scale(1 1.05)" font-size="15.4" text-anchor="middle" stroke="#000" stroke-width="0.18">0.7</text>
<line x1="957.20" y1="581.78" x2="964.40" y2="581.78" stroke="#2b2b2b" stroke-width="1.4"/>
<text transform="translate(946.50 582.28) rotate(-90) scale(1 1.05)" font-size="15.4" text-anchor="middle" stroke="#000" stroke-width="0.18">0.8</text>
<line x1="972.90" y1="904.70" x2="1347.10" y2="904.70" stroke="#2b2b2b" stroke-width="1.4"/>
<line x1="973.50" y1="904.70" x2="973.50" y2="911.20" stroke="#2b2b2b" stroke-width="1.4"/>
<text transform="translate(973.50 931.00) scale(1 1.05)" font-size="15.4" text-anchor="middle" stroke="#000" stroke-width="0.18">0</text>
<line x1="1048.10" y1="904.70" x2="1048.10" y2="911.20" stroke="#2b2b2b" stroke-width="1.4"/>
<text transform="translate(1048.10 931.00) scale(1 1.05)" font-size="15.4" text-anchor="middle" stroke="#000" stroke-width="0.18">2</text>
<line x1="1122.70" y1="904.70" x2="1122.70" y2="911.20" stroke="#2b2b2b" stroke-width="1.4"/>
<text transform="translate(1122.70 931.00) scale(1 1.05)" font-size="15.4" text-anchor="middle" stroke="#000" stroke-width="0.18">4</text>
<line x1="1197.30" y1="904.70" x2="1197.30" y2="911.20" stroke="#2b2b2b" stroke-width="1.4"/>
<text transform="translate(1197.30 931.00) scale(1 1.05)" font-size="15.4" text-anchor="middle" stroke="#000" stroke-width="0.18">6</text>
<line x1="1271.90" y1="904.70" x2="1271.90" y2="911.20" stroke="#2b2b2b" stroke-width="1.4"/>
<text transform="translate(1271.90 931.00) scale(1 1.05)" font-size="15.4" text-anchor="middle" stroke="#000" stroke-width="0.18">8</text>
<line x1="1346.50" y1="904.70" x2="1346.50" y2="911.20" stroke="#2b2b2b" stroke-width="1.4"/>
<text transform="translate(1346.50 931.00) scale(1 1.05)" font-size="15.4" text-anchor="middle" stroke="#000" stroke-width="0.18">10</text>
<text x="1181.20" y="951.30" font-size="15.6" text-anchor="middle" stroke="#000" stroke-width="0.18">Time</text>
<text transform="translate(915.40 711.70) rotate(-90)" font-size="15.4" text-anchor="middle" stroke="#000" stroke-width="0.18">Concordance index</text>
<circle cx="970.70" cy="814.67" r="1.55" fill="#BEBEBE"/>
<circle cx="982.62" cy="814.67" r="1.55" fill="#BEBEBE"/>
<circle cx="994.54" cy="814.67" r="1.55" fill="#BEBEBE"/>
<circle cx="1006.46" cy="814.67" r="1.55" fill="#BEBEBE"/>
<circle cx="1018.38" cy="814.67" r="1.55" fill="#BEBEBE"/>
<circle cx="1030.30" cy="814.67" r="1.55" fill="#BEBEBE"/>
<circle cx="1042.22" cy="814.67" r="1.55" fill="#BEBEBE"/>
<circle cx="1054.14" cy="814.67" r="1.55" fill="#BEBEBE"/>
<circle cx="1066.06" cy="814.67" r="1.55" fill="#BEBEBE"/>
<circle cx="1077.98" cy="814.67" r="1.55" fill="#BEBEBE"/>
<circle cx="1089.90" cy="814.67" r="1.55" fill="#BEBEBE"/>
<circle cx="1101.82" cy="814.67" r="1.55" fill="#BEBEBE"/>
<circle cx="1113.74" cy="814.67" r="1.55" fill="#BEBEBE"/>
<circle cx="1125.66" cy="814.67" r="1.55" fill="#BEBEBE"/>
<circle cx="1137.58" cy="814.67" r="1.55" fill="#BEBEBE"/>
<circle cx="1149.50" cy="814.67" r="1.55" fill="#BEBEBE"/>
<circle cx="1161.42" cy="814.67" r="1.55" fill="#BEBEBE"/>
<circle cx="1173.34" cy="814.67" r="1.55" fill="#BEBEBE"/>
<circle cx="1185.26" cy="814.67" r="1.55" fill="#BEBEBE"/>
<circle cx="1197.18" cy="814.67" r="1.55" fill="#BEBEBE"/>
<circle cx="1209.10" cy="814.67" r="1.55" fill="#BEBEBE"/>
<circle cx="1221.02" cy="814.67" r="1.55" fill="#BEBEBE"/>
<circle cx="1232.94" cy="814.67" r="1.55" fill="#BEBEBE"/>
<circle cx="1244.86" cy="814.67" r="1.55" fill="#BEBEBE"/>
<circle cx="1256.78" cy="814.67" r="1.55" fill="#BEBEBE"/>
<circle cx="1268.70" cy="814.67" r="1.55" fill="#BEBEBE"/>
<circle cx="1280.62" cy="814.67" r="1.55" fill="#BEBEBE"/>
<circle cx="1292.54" cy="814.67" r="1.55" fill="#BEBEBE"/>
<circle cx="1304.46" cy="814.67" r="1.55" fill="#BEBEBE"/>
<circle cx="1316.38" cy="814.67" r="1.55" fill="#BEBEBE"/>
<circle cx="1328.30" cy="814.67" r="1.55" fill="#BEBEBE"/>
<circle cx="1340.22" cy="814.67" r="1.55" fill="#BEBEBE"/>
<polyline points="1010.80,620.60 1048.10,648.54 1085.40,652.42 1122.70,659.41 1160.00,661.74 1197.30,661.74 1234.60,661.74 1271.90,663.29 1309.20,667.95 1346.50,677.26" fill="none" stroke="#DE0E10" stroke-width="2.5" stroke-linejoin="round"/>
<polyline points="1010.80,834.85 1048.10,834.85 1085.40,833.30 1122.70,832.52 1160.00,832.52 1197.30,832.52 1234.60,832.52 1271.90,832.52 1309.20,834.85 1346.50,841.06" fill="none" stroke="#E49C10" stroke-width="2.5" stroke-linejoin="round"/>
<polyline points="1010.80,810.79 1048.10,813.12 1085.40,819.33 1122.70,821.66 1160.00,822.43 1197.30,822.43 1234.60,821.66 1271.90,821.66 1309.20,824.76 1346.50,831.75" fill="none" stroke="#2CDA0A" stroke-width="2.5" stroke-linejoin="round"/>
<polyline points="1010.80,695.90 1048.10,710.65 1085.40,716.08 1122.70,724.62 1160.00,723.84 1197.30,724.62 1234.60,725.40 1271.90,726.17 1309.20,730.83 1346.50,739.37" fill="none" stroke="#0ADA2C" stroke-width="2.5" stroke-linejoin="round"/>
<polyline points="1010.80,810.79 1048.10,801.47 1085.40,799.14 1122.70,796.82 1160.00,798.37 1197.30,799.14 1234.60,799.14 1271.90,798.37 1309.20,801.47 1346.50,808.46" fill="none" stroke="#0AD6DA" stroke-width="2.5" stroke-linejoin="round"/>
<polyline points="1010.80,699.00 1048.10,681.15 1085.40,698.22 1122.70,709.09 1160.00,711.42 1197.30,710.65 1234.60,710.65 1271.90,710.65 1309.20,715.30 1346.50,723.84" fill="none" stroke="#0A2CDE" stroke-width="2.5" stroke-linejoin="round"/>
<polyline points="1010.80,655.53 1048.10,665.62 1085.40,681.92 1122.70,691.24 1160.00,696.67 1197.30,695.90 1234.60,696.67 1271.90,695.90 1309.20,700.55 1346.50,709.87" fill="none" stroke="#6E0AEC" stroke-width="2.5" stroke-linejoin="round"/>
<line x1="1354.30" y1="686.80" x2="1371.50" y2="686.80" stroke="#DE0E10" stroke-width="1.95"/>
<text x="1382.20" y="691.40" font-size="12.75" stroke="#000" stroke-width="0.17">Risk score</text>
<line x1="1354.30" y1="710.00" x2="1371.50" y2="710.00" stroke="#E49C10" stroke-width="1.95"/>
<text x="1382.20" y="714.60" font-size="12.75" stroke="#000" stroke-width="0.17">Age</text>
<line x1="1354.30" y1="733.20" x2="1371.50" y2="733.20" stroke="#2CDA0A" stroke-width="1.95"/>
<text x="1382.20" y="737.80" font-size="12.75" stroke="#000" stroke-width="0.17">Gender</text>
<line x1="1354.30" y1="756.40" x2="1371.50" y2="756.40" stroke="#0ADA2C" stroke-width="1.95"/>
<text x="1382.20" y="761.00" font-size="12.75" stroke="#000" stroke-width="0.17">T</text>
<line x1="1354.30" y1="779.60" x2="1371.50" y2="779.60" stroke="#0AD6DA" stroke-width="1.95"/>
<text x="1382.20" y="784.20" font-size="12.75" stroke="#000" stroke-width="0.17">M</text>
<line x1="1354.30" y1="802.80" x2="1371.50" y2="802.80" stroke="#0A2CDE" stroke-width="1.95"/>
<text x="1382.20" y="807.40" font-size="12.75" stroke="#000" stroke-width="0.17">N</text>
<line x1="1354.30" y1="826.00" x2="1371.50" y2="826.00" stroke="#6E0AEC" stroke-width="1.95"/>
<text x="1382.20" y="830.60" font-size="12.75" stroke="#000" stroke-width="0.17">Stage</text>
</g>
<g id="dca">
<line x1="1522.90" y1="571.30" x2="1522.90" y2="905.50" stroke="#000" stroke-width="1.7"/>
<line x1="1522.10" y1="904.70" x2="1905.80" y2="904.70" stroke="#000" stroke-width="1.7"/>
<line x1="1518.60" y1="894.10" x2="1522.90" y2="894.10" stroke="#111" stroke-width="1.3"/>
<text transform="translate(1515.70 898.90) scale(1 1.04)" font-size="13.1" text-anchor="end" fill="#2a2a2a" stroke="#2a2a2a" stroke-width="0.17">−0.2</text>
<line x1="1518.60" y1="803.90" x2="1522.90" y2="803.90" stroke="#111" stroke-width="1.3"/>
<text transform="translate(1515.70 808.70) scale(1 1.04)" font-size="13.1" text-anchor="end" fill="#2a2a2a" stroke="#2a2a2a" stroke-width="0.17">0.0</text>
<line x1="1518.60" y1="713.70" x2="1522.90" y2="713.70" stroke="#111" stroke-width="1.3"/>
<text transform="translate(1515.70 718.50) scale(1 1.04)" font-size="13.1" text-anchor="end" fill="#2a2a2a" stroke="#2a2a2a" stroke-width="0.17">0.2</text>
<line x1="1518.60" y1="623.50" x2="1522.90" y2="623.50" stroke="#111" stroke-width="1.3"/>
<text transform="translate(1515.70 628.30) scale(1 1.04)" font-size="13.1" text-anchor="end" fill="#2a2a2a" stroke="#2a2a2a" stroke-width="0.17">0.4</text>
<line x1="1538.80" y1="904.70" x2="1538.80" y2="909.20" stroke="#111" stroke-width="1.3"/>
<text transform="translate(1538.80 925.40) scale(1 1.04)" font-size="15.8" text-anchor="middle" fill="#2a2a2a" stroke="#2a2a2a" stroke-width="0.18">0.0</text>
<line x1="1621.40" y1="904.70" x2="1621.40" y2="909.20" stroke="#111" stroke-width="1.3"/>
<text transform="translate(1621.40 925.40) scale(1 1.04)" font-size="15.8" text-anchor="middle" fill="#2a2a2a" stroke="#2a2a2a" stroke-width="0.18">0.2</text>
<line x1="1704.00" y1="904.70" x2="1704.00" y2="909.20" stroke="#111" stroke-width="1.3"/>
<text transform="translate(1704.00 925.40) scale(1 1.04)" font-size="15.8" text-anchor="middle" fill="#2a2a2a" stroke="#2a2a2a" stroke-width="0.18">0.4</text>
<line x1="1786.60" y1="904.70" x2="1786.60" y2="909.20" stroke="#111" stroke-width="1.3"/>
<text transform="translate(1786.60 925.40) scale(1 1.04)" font-size="15.8" text-anchor="middle" fill="#2a2a2a" stroke="#2a2a2a" stroke-width="0.18">0.6</text>
<line x1="1869.20" y1="904.70" x2="1869.20" y2="909.20" stroke="#111" stroke-width="1.3"/>
<text transform="translate(1869.20 925.40) scale(1 1.04)" font-size="15.8" text-anchor="middle" fill="#2a2a2a" stroke="#2a2a2a" stroke-width="0.18">0.8</text>
<text x="1717.30" y="947.60" font-size="15.8" text-anchor="middle" stroke="#000" stroke-width="0.18">Risk Threshold</text>
<text transform="translate(1483.80 733.80) rotate(-90) scale(1 1.08)" font-size="15.7" text-anchor="middle" stroke="#000" stroke-width="0.18">Net Benefit</text>
<polyline points="1641.66,704.46 1744.32,757.20 1848.19,798.31" fill="none" stroke="#F4645C" stroke-width="2.55" stroke-linejoin="round"/>
<polyline points="1703.82,790.89 1714.65,803.92" fill="none" stroke="#8CA400" stroke-width="2.55" stroke-linejoin="round"/>
<polyline points="1703.82,790.89 1717.05,803.52" fill="none" stroke="#D08C00" stroke-width="2.55" stroke-linejoin="round"/>
<polyline points="1663.11,728.53 1711.84,773.84 1778.41,780.86 1846.59,806.33" fill="none" stroke="#00B22E" stroke-width="2.55" stroke-linejoin="round"/>
<polyline points="1703.22,789.89 1795.46,801.72" fill="none" stroke="#00BA98" stroke-width="2.55" stroke-linejoin="round"/>
<polyline points="1672.14,742.16 1736.30,761.21 1815.51,809.34 1888.70,811.74" fill="none" stroke="#00B0E0" stroke-width="2.55" stroke-linejoin="round"/>
<polyline points="1662.71,727.32 1715.25,746.57 1740.31,760.61 1800.47,791.89 1848.59,815.95" fill="none" stroke="#4F8DF8" stroke-width="2.55" stroke-linejoin="round"/>
<polyline points="1538.80,617.19 1642.05,705.28 1645.97,709.80 1649.90,714.44 1653.82,719.20 1657.74,724.09 1661.67,729.11 1665.59,734.27 1669.51,739.57 1673.44,745.02 1677.36,750.62 1681.28,756.39 1685.21,762.33 1689.13,768.44 1693.06,774.75 1696.98,781.24 1700.90,787.94 1704.83,794.85 1708.75,801.98 1712.67,809.35 1716.60,816.97 1720.52,824.84 1724.44,832.98 1728.37,841.41 1732.29,850.15 1736.21,859.20 1740.14,868.58 1744.06,878.32" fill="none" stroke="#DD5EF6" stroke-width="2.55" stroke-linejoin="round"/>
<polyline points="1538.80,803.90 1888.70,803.90" fill="none" stroke="#FF3CC2" stroke-width="2.55" stroke-linejoin="round"/>
<line x1="1916.20" y1="674.15" x2="1930.80" y2="674.15" stroke="#F4645C" stroke-width="2.5"/>
<text x="1940.00" y="678.75" font-size="12.9" stroke="#000" stroke-width="0.17">Risk</text>
<line x1="1916.20" y1="692.43" x2="1930.80" y2="692.43" stroke="#D08C00" stroke-width="2.5"/>
<text x="1940.00" y="697.03" font-size="12.9" stroke="#000" stroke-width="0.17">Age</text>
<line x1="1916.20" y1="710.71" x2="1930.80" y2="710.71" stroke="#8CA400" stroke-width="2.5"/>
<text x="1940.00" y="715.31" font-size="12.9" stroke="#000" stroke-width="0.17">Gender</text>
<line x1="1916.20" y1="728.99" x2="1930.80" y2="728.99" stroke="#00B22E" stroke-width="2.5"/>
<text x="1940.00" y="733.59" font-size="12.9" stroke="#000" stroke-width="0.17">T</text>
<line x1="1916.20" y1="747.27" x2="1930.80" y2="747.27" stroke="#00BA98" stroke-width="2.5"/>
<text x="1940.00" y="751.87" font-size="12.9" stroke="#000" stroke-width="0.17">M</text>
<line x1="1916.20" y1="765.55" x2="1930.80" y2="765.55" stroke="#00B0E0" stroke-width="2.5"/>
<text x="1940.00" y="770.15" font-size="12.9" stroke="#000" stroke-width="0.17">N</text>
<line x1="1916.20" y1="783.83" x2="1930.80" y2="783.83" stroke="#4F8DF8" stroke-width="2.5"/>
<text x="1940.00" y="788.43" font-size="12.9" stroke="#000" stroke-width="0.17">Stage</text>
<line x1="1916.20" y1="802.11" x2="1930.80" y2="802.11" stroke="#DD5EF6" stroke-width="2.5"/>
<text x="1940.00" y="806.71" font-size="12.9" stroke="#000" stroke-width="0.17">All</text>
<line x1="1916.20" y1="820.39" x2="1930.80" y2="820.39" stroke="#FF3CC2" stroke-width="2.5"/>
<text x="1940.00" y="824.99" font-size="12.9" stroke="#000" stroke-width="0.17">None</text>
</g>
</g>
</svg>
</body>
</html>
